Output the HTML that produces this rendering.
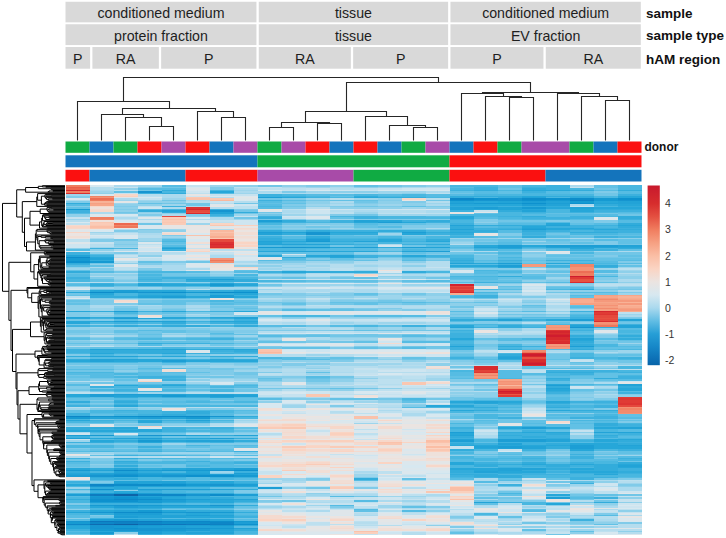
<!DOCTYPE html><html><head><meta charset="utf-8"><style>
html,body{margin:0;padding:0;background:#fff;width:726px;height:538px;overflow:hidden}
body{position:relative;font-family:"Liberation Sans",sans-serif}
text{font-family:"Liberation Sans",sans-serif}
.ht{font-size:14.2px;fill:#1e1e1e;text-anchor:middle}
.lt{font-size:13.5px;font-weight:bold;fill:#111}
.gt{font-size:10.5px;fill:#333}
svg{position:absolute;left:0;top:0}
</style></head><body>
<svg width="726" height="538" viewBox="0 0 726 538"><defs><linearGradient id="lg" x1="0" y1="0" x2="0" y2="1"><stop offset="-0.0045" stop-color="#c8192d"/><stop offset="0.1013" stop-color="#d72d2d"/><stop offset="0.1738" stop-color="#e45041"/><stop offset="0.2462" stop-color="#f07d5f"/><stop offset="0.3187" stop-color="#f6a082"/><stop offset="0.3912" stop-color="#fabea5"/><stop offset="0.4637" stop-color="#fad4c3"/><stop offset="0.5362" stop-color="#ebe4e1"/><stop offset="0.6087" stop-color="#d7e8f0"/><stop offset="0.6811" stop-color="#aad9ee"/><stop offset="0.7536" stop-color="#62bde4"/><stop offset="0.8261" stop-color="#269ed6"/><stop offset="0.8986" stop-color="#1687c8"/><stop offset="0.9711" stop-color="#0c6eb4"/><stop offset="1.0015" stop-color="#0864a8"/></linearGradient></defs><rect x="65.50" y="1.75" width="190.95" height="20.6" fill="#d9d9d9"/><rect x="258.75" y="1.75" width="189.40" height="20.6" fill="#d9d9d9"/><rect x="450.45" y="1.75" width="190.35" height="20.6" fill="#d9d9d9"/><rect x="65.50" y="24.25" width="190.95" height="20.8" fill="#d9d9d9"/><rect x="258.75" y="24.25" width="189.40" height="20.8" fill="#d9d9d9"/><rect x="450.45" y="24.25" width="190.35" height="20.8" fill="#d9d9d9"/><rect x="65.50" y="47.0" width="24.60" height="21.7" fill="#d9d9d9"/><rect x="92.40" y="47.0" width="66.45" height="21.7" fill="#d9d9d9"/><rect x="161.15" y="47.0" width="95.30" height="21.7" fill="#d9d9d9"/><rect x="258.75" y="47.0" width="92.10" height="21.7" fill="#d9d9d9"/><rect x="353.15" y="47.0" width="95.00" height="21.7" fill="#d9d9d9"/><rect x="450.45" y="47.0" width="93.00" height="21.7" fill="#d9d9d9"/><rect x="545.75" y="47.0" width="95.05" height="21.7" fill="#d9d9d9"/><rect x="65.50" y="141.5" width="24.00" height="11.3" fill="#10ab43"/><rect x="89.50" y="141.5" width="24.00" height="11.3" fill="#1474bc"/><rect x="113.50" y="141.5" width="24.00" height="11.3" fill="#10ab43"/><rect x="137.50" y="141.5" width="24.00" height="11.3" fill="#fb1010"/><rect x="161.50" y="141.5" width="24.00" height="11.3" fill="#a84ba8"/><rect x="185.50" y="141.5" width="24.00" height="11.3" fill="#fb1010"/><rect x="209.50" y="141.5" width="24.00" height="11.3" fill="#1474bc"/><rect x="233.50" y="141.5" width="24.00" height="11.3" fill="#a84ba8"/><rect x="257.50" y="141.5" width="24.00" height="11.3" fill="#10ab43"/><rect x="281.50" y="141.5" width="24.00" height="11.3" fill="#a84ba8"/><rect x="305.50" y="141.5" width="24.00" height="11.3" fill="#fb1010"/><rect x="329.50" y="141.5" width="24.00" height="11.3" fill="#1474bc"/><rect x="353.50" y="141.5" width="24.00" height="11.3" fill="#fb1010"/><rect x="377.50" y="141.5" width="24.00" height="11.3" fill="#1474bc"/><rect x="401.50" y="141.5" width="24.00" height="11.3" fill="#10ab43"/><rect x="425.50" y="141.5" width="24.00" height="11.3" fill="#a84ba8"/><rect x="449.50" y="141.5" width="24.00" height="11.3" fill="#1474bc"/><rect x="473.50" y="141.5" width="24.00" height="11.3" fill="#fb1010"/><rect x="497.50" y="141.5" width="24.00" height="11.3" fill="#10ab43"/><rect x="521.50" y="141.5" width="48.00" height="11.3" fill="#a84ba8"/><rect x="569.50" y="141.5" width="24.00" height="11.3" fill="#10ab43"/><rect x="593.50" y="141.5" width="24.00" height="11.3" fill="#1474bc"/><rect x="617.50" y="141.5" width="24.00" height="11.3" fill="#fb1010"/><rect x="65.50" y="155.3" width="192.00" height="12.0" fill="#1474bc"/><rect x="257.50" y="155.3" width="192.00" height="12.0" fill="#10ab43"/><rect x="449.50" y="155.3" width="192.00" height="12.0" fill="#fb1010"/><rect x="65.50" y="169.8" width="24.00" height="11.7" fill="#fb1010"/><rect x="89.50" y="169.8" width="96.00" height="11.7" fill="#1474bc"/><rect x="185.50" y="169.8" width="72.00" height="11.7" fill="#fb1010"/><rect x="257.50" y="169.8" width="96.00" height="11.7" fill="#a84ba8"/><rect x="353.50" y="169.8" width="96.00" height="11.7" fill="#10ab43"/><rect x="449.50" y="169.8" width="96.00" height="11.7" fill="#fb1010"/><rect x="545.50" y="169.8" width="96.00" height="11.7" fill="#1474bc"/><path d="M149.5 140.5V126.5H173.5V140.5M125.5 140.5V117.5H161.5V126.0M101.5 140.5V114.5H143.5V117.4M221.5 140.5V117.5H245.5V140.5M197.5 140.5V111.5H233.5V117.4M122.5 114.0V108.5H215.5V111.9M77.5 140.5V101.5H169.5V108.6M269.5 140.5V127.5H293.5V140.5M317.5 140.5V123.5H341.5V140.5M281.5 127.0V122.5H329.5V123.2M413.5 140.5V127.5H437.5V140.5M389.5 140.5V125.5H425.5V127.9M365.5 140.5V116.5H407.5V125.9M305.5 122.3V111.5H386.5V116.8M509.5 140.5V97.5H533.5V140.5M485.5 140.5V96.5H521.5V97.5M461.5 140.5V93.5H503.5V96.3M605.5 140.5V100.5H629.5V140.5M581.5 140.5V96.5H617.5V100.4M557.5 140.5V93.5H599.5V96.5M482.5 93.8V92.5H578.5V93.8M346.5 111.9V82.5H530.5V92.4M123.5 101.0V77.5H438.5V82.2" fill="none" stroke="#262626" stroke-width="1.1"/><rect x="647.6" y="185.5" width="12.2" height="179.7" fill="url(#lg)"/><filter id="hb" x="-1%" y="-1%" width="102%" height="102%"><feGaussianBlur stdDeviation="0.4 0.55"/></filter><g filter="url(#hb)"><g transform="translate(65.5,185.3) scale(24.0,1.45792)" shape-rendering="crispEdges"><path fill="#f07d5f" d="M0 0h1v1h-1zM0 4h1v1h-1zM1 10h1v1h-1zM1 22h1v1h-1zM21 60h1v2h-1z"/><path fill="#ea5f49" d="M0 1h1v1h-1z"/><path fill="#ec674f" d="M0 2h1v1h-1zM2 26h1v1h-1z"/><path fill="#d4262e" d="M0 3h1v1h-1zM5 16h1v1h-1zM19 121h1v1h-1zM20 100h1v1h-1zM20 102h1v1h-1zM22 86h1v1h-1z"/><path fill="#d92d2f" d="M0 5h1v1h-1zM6 42h1v1h-1zM19 120h1v1h-1zM19 123h1v1h-1zM20 101h1v1h-1zM20 107h1v1h-1zM22 93h1v1h-1z"/><path fill="#9dd5ec" d="M0 6h1v1h-1zM0 23h1v1h-1zM0 57h1v1h-1zM0 103h1v1h-1zM0 141h1v1h-1zM0 153h1v1h-1zM0 175h1v1h-1zM0 202h1v1h-1zM0 207h1v1h-1zM1 4h1v1h-1zM1 32h1v1h-1zM1 42h1v1h-1zM1 60h1v1h-1zM1 70h1v1h-1zM1 84h1v2h-1zM1 88h1v1h-1zM1 97h1v1h-1zM1 101h1v1h-1zM1 109h1v1h-1zM1 183h1v1h-1zM2 10h1v1h-1zM2 12h1v1h-1zM2 42h1v1h-1zM2 62h1v2h-1zM2 103h1v1h-1zM2 110h1v1h-1zM2 165h1v1h-1zM3 0h1v1h-1zM3 10h1v1h-1zM3 19h1v1h-1zM3 36h1v2h-1zM3 70h1v1h-1zM3 83h1v2h-1zM3 142h1v1h-1zM3 152h1v1h-1zM4 9h1v1h-1zM4 13h1v1h-1zM4 30h1v1h-1zM4 35h1v1h-1zM4 53h1v2h-1zM4 101h1v1h-1zM4 110h1v1h-1zM4 124h1v1h-1zM4 142h1v1h-1zM4 152h1v1h-1zM4 177h1v1h-1zM4 183h1v1h-1zM5 26h1v1h-1zM5 84h1v1h-1zM5 89h1v1h-1zM5 95h1v1h-1zM5 97h1v1h-1zM5 103h1v1h-1zM5 110h1v1h-1zM5 123h1v1h-1zM5 135h1v1h-1zM5 183h1v1h-1zM6 0h1v1h-1zM6 60h1v1h-1zM6 70h1v1h-1zM6 97h1v1h-1zM6 110h1v1h-1zM6 123h1v2h-1zM6 130h1v1h-1zM6 132h1v1h-1zM6 183h1v2h-1zM6 196h1v1h-1zM7 3h1v1h-1zM7 5h1v1h-1zM7 20h1v1h-1zM7 23h1v1h-1zM7 60h1v1h-1zM7 66h1v1h-1zM7 70h1v1h-1zM7 103h1v1h-1zM7 106h1v1h-1zM7 124h1v1h-1zM7 127h1v1h-1zM7 133h1v1h-1zM7 161h1v1h-1zM7 184h1v1h-1zM8 57h1v1h-1zM8 71h1v1h-1zM8 79h1v1h-1zM8 82h1v1h-1zM8 90h1v1h-1zM8 98h1v1h-1zM8 105h1v1h-1zM8 121h1v1h-1zM8 123h1v1h-1zM8 125h1v1h-1zM8 137h1v1h-1zM8 140h1v1h-1zM8 201h1v1h-1zM8 204h1v1h-1zM8 212h1v1h-1zM8 220h1v1h-1zM9 20h1v1h-1zM9 53h1v2h-1zM9 56h1v1h-1zM9 61h1v1h-1zM9 68h1v1h-1zM9 78h1v1h-1zM9 98h1v1h-1zM9 104h1v1h-1zM9 110h1v1h-1zM9 124h1v1h-1zM9 133h1v2h-1zM9 145h1v1h-1zM9 151h1v2h-1zM9 201h1v2h-1zM9 213h1v1h-1zM10 1h1v1h-1zM10 4h1v1h-1zM10 9h1v1h-1zM10 13h1v1h-1zM10 27h1v1h-1zM10 52h1v1h-1zM10 55h1v1h-1zM10 68h1v1h-1zM10 76h1v1h-1zM10 90h1v1h-1zM10 110h1v1h-1zM10 116h1v1h-1zM10 121h1v1h-1zM10 124h1v1h-1zM10 127h1v1h-1zM10 129h1v1h-1zM10 136h1v1h-1zM10 138h1v1h-1zM10 140h1v1h-1zM10 212h1v1h-1zM10 219h1v1h-1zM11 12h1v1h-1zM11 23h1v1h-1zM11 29h1v1h-1zM11 53h1v1h-1zM11 60h1v1h-1zM11 68h1v1h-1zM11 73h1v1h-1zM11 91h1v1h-1zM11 94h1v1h-1zM11 105h1v1h-1zM11 122h1v2h-1zM11 138h1v1h-1zM11 221h1v1h-1zM12 9h1v1h-1zM12 18h1v2h-1zM12 55h1v1h-1zM12 58h1v1h-1zM12 76h1v1h-1zM12 78h1v1h-1zM12 91h1v1h-1zM12 95h1v1h-1zM12 105h1v1h-1zM12 122h1v2h-1zM12 148h1v1h-1zM12 163h1v1h-1zM12 198h1v2h-1zM13 1h1v1h-1zM13 4h1v2h-1zM13 13h1v1h-1zM13 20h1v1h-1zM13 33h1v1h-1zM13 46h1v1h-1zM13 51h1v1h-1zM13 60h1v1h-1zM13 63h1v1h-1zM13 75h1v3h-1zM13 94h1v1h-1zM13 97h1v2h-1zM13 110h1v1h-1zM13 118h1v1h-1zM13 122h1v1h-1zM13 213h1v1h-1zM13 219h1v2h-1zM14 4h1v1h-1zM14 15h1v1h-1zM14 20h1v1h-1zM14 68h1v1h-1zM14 76h1v1h-1zM14 78h1v1h-1zM14 90h1v1h-1zM14 94h1v1h-1zM14 213h1v1h-1zM14 216h1v1h-1zM14 219h1v1h-1zM15 12h1v1h-1zM15 20h1v1h-1zM15 58h1v1h-1zM15 60h1v1h-1zM15 62h1v1h-1zM15 68h1v1h-1zM15 76h1v2h-1zM15 85h1v1h-1zM15 105h1v1h-1zM15 132h1v2h-1zM15 139h1v1h-1zM15 155h1v1h-1zM16 36h1v1h-1zM16 39h1v1h-1zM16 57h1v1h-1zM16 79h1v1h-1zM16 84h1v1h-1zM16 125h1v1h-1zM16 143h1v1h-1zM16 236h1v1h-1zM17 103h1v2h-1zM17 115h1v2h-1zM17 139h1v1h-1zM17 165h1v1h-1zM17 210h1v1h-1zM17 213h1v1h-1zM17 238h1v1h-1zM18 36h1v1h-1zM18 68h1v1h-1zM18 82h1v1h-1zM18 85h1v1h-1zM18 87h1v1h-1zM18 121h1v1h-1zM18 125h1v1h-1zM18 203h1v1h-1zM18 209h1v1h-1zM18 228h1v1h-1zM18 234h1v1h-1zM19 38h1v1h-1zM19 60h1v1h-1zM19 81h1v1h-1zM19 87h1v1h-1zM19 133h1v1h-1zM19 139h1v2h-1zM19 151h1v1h-1zM19 202h1v1h-1zM19 220h1v1h-1zM19 225h1v1h-1zM19 237h1v1h-1zM20 36h1v1h-1zM20 60h1v1h-1zM20 63h1v1h-1zM20 67h1v1h-1zM20 72h1v1h-1zM20 75h1v2h-1zM20 185h1v1h-1zM20 226h1v1h-1zM21 85h1v1h-1zM21 167h1v1h-1zM21 205h1v1h-1zM21 226h1v1h-1zM21 236h1v1h-1zM22 45h1v1h-1zM22 57h1v1h-1zM22 60h1v1h-1zM22 139h1v1h-1zM22 141h1v1h-1zM22 144h1v2h-1zM22 219h1v1h-1zM22 230h1v1h-1zM22 234h1v1h-1zM23 56h1v1h-1zM23 58h1v1h-1zM23 61h1v1h-1zM23 69h1v1h-1zM23 74h1v1h-1zM23 88h1v1h-1zM23 108h1v1h-1zM23 113h1v2h-1zM23 185h1v1h-1zM23 204h1v1h-1z"/><path fill="#80cbe9" d="M0 7h1v2h-1zM0 11h1v1h-1zM0 14h1v1h-1zM0 87h1v3h-1zM0 101h1v2h-1zM0 107h1v1h-1zM0 109h1v1h-1zM0 116h1v1h-1zM0 135h1v1h-1zM0 138h1v2h-1zM0 164h1v1h-1zM0 177h1v1h-1zM0 180h1v1h-1zM0 209h1v1h-1zM0 218h1v1h-1zM1 37h1v2h-1zM1 57h1v2h-1zM1 63h1v1h-1zM1 77h1v1h-1zM1 79h1v3h-1zM1 92h1v1h-1zM1 99h1v2h-1zM1 102h1v1h-1zM1 123h1v1h-1zM1 133h1v1h-1zM1 147h1v1h-1zM1 149h1v1h-1zM1 153h1v1h-1zM1 187h1v2h-1zM1 192h1v2h-1zM1 203h1v1h-1zM1 226h1v1h-1zM2 14h1v1h-1zM2 16h1v1h-1zM2 19h1v1h-1zM2 31h1v1h-1zM2 40h1v1h-1zM2 46h1v1h-1zM2 65h1v1h-1zM2 71h1v1h-1zM2 81h1v1h-1zM2 83h1v1h-1zM2 101h1v2h-1zM2 106h1v2h-1zM2 124h1v2h-1zM2 134h1v2h-1zM2 142h1v1h-1zM2 164h1v1h-1zM2 171h1v1h-1zM2 177h1v1h-1zM2 180h1v1h-1zM3 1h1v1h-1zM3 20h1v1h-1zM3 30h1v1h-1zM3 53h1v2h-1zM3 57h1v1h-1zM3 71h1v1h-1zM3 88h1v1h-1zM3 98h1v1h-1zM3 106h1v1h-1zM3 123h1v1h-1zM3 149h1v1h-1zM3 184h1v1h-1zM3 188h1v1h-1zM4 34h1v1h-1zM4 36h1v1h-1zM4 52h1v1h-1zM4 70h1v1h-1zM4 78h1v1h-1zM4 84h1v1h-1zM4 88h1v1h-1zM4 97h1v2h-1zM4 109h1v1h-1zM4 135h1v1h-1zM4 163h1v1h-1zM4 180h1v1h-1zM4 184h1v1h-1zM5 20h1v1h-1zM5 60h1v1h-1zM5 78h1v1h-1zM5 80h1v2h-1zM5 87h1v1h-1zM5 92h1v1h-1zM5 98h1v1h-1zM5 102h1v1h-1zM5 116h1v1h-1zM5 118h1v1h-1zM5 122h1v1h-1zM5 126h1v2h-1zM5 129h1v1h-1zM5 139h1v1h-1zM5 153h1v1h-1zM5 163h1v1h-1zM5 169h1v1h-1zM5 177h1v1h-1zM5 180h1v1h-1zM5 184h1v1h-1zM6 1h1v2h-1zM6 82h1v1h-1zM6 84h1v2h-1zM6 87h1v2h-1zM6 99h1v1h-1zM6 103h1v1h-1zM6 127h1v3h-1zM6 147h1v1h-1zM6 153h1v1h-1zM6 160h1v1h-1zM6 177h1v1h-1zM6 197h1v1h-1zM6 202h1v1h-1zM7 16h1v1h-1zM7 71h1v1h-1zM7 89h1v1h-1zM7 99h1v2h-1zM7 104h1v1h-1zM7 107h1v1h-1zM7 109h1v1h-1zM7 118h1v1h-1zM7 122h1v1h-1zM7 125h1v1h-1zM7 130h1v2h-1zM7 139h1v1h-1zM7 157h1v1h-1zM7 167h1v1h-1zM7 169h1v1h-1zM7 177h1v1h-1zM7 183h1v1h-1zM7 188h1v1h-1zM7 209h1v2h-1zM8 52h1v1h-1zM8 66h1v1h-1zM8 75h1v1h-1zM8 81h1v1h-1zM8 85h1v1h-1zM8 99h1v1h-1zM8 102h1v1h-1zM8 104h1v1h-1zM8 106h1v1h-1zM8 110h1v1h-1zM8 120h1v1h-1zM8 124h1v1h-1zM8 128h1v1h-1zM8 131h1v1h-1zM8 216h1v1h-1zM9 4h1v1h-1zM9 9h1v1h-1zM9 13h1v1h-1zM9 15h1v1h-1zM9 23h1v1h-1zM9 28h1v1h-1zM9 30h1v1h-1zM9 34h1v1h-1zM9 52h1v1h-1zM9 66h1v1h-1zM9 74h1v2h-1zM9 84h1v1h-1zM9 90h1v1h-1zM9 99h1v1h-1zM9 102h1v1h-1zM9 122h1v2h-1zM9 131h1v1h-1zM9 146h1v1h-1zM10 0h1v1h-1zM10 26h1v1h-1zM10 50h1v1h-1zM10 75h1v1h-1zM10 99h1v1h-1zM10 107h1v1h-1zM10 122h1v1h-1zM10 146h1v1h-1zM10 201h1v1h-1zM11 14h1v1h-1zM11 20h1v1h-1zM11 26h1v1h-1zM11 28h1v1h-1zM11 30h1v1h-1zM11 66h1v1h-1zM11 74h1v2h-1zM11 79h1v1h-1zM11 102h1v1h-1zM11 111h1v1h-1zM11 120h1v1h-1zM11 132h1v1h-1zM11 151h1v1h-1zM11 220h1v1h-1zM12 12h1v1h-1zM12 23h1v1h-1zM12 29h1v2h-1zM12 47h1v1h-1zM12 50h1v1h-1zM12 60h1v1h-1zM12 79h1v1h-1zM12 84h1v1h-1zM12 110h1v1h-1zM12 200h1v1h-1zM12 207h1v1h-1zM13 10h1v1h-1zM13 14h1v1h-1zM13 23h1v1h-1zM13 29h1v1h-1zM13 34h1v1h-1zM13 65h1v1h-1zM13 81h1v1h-1zM13 84h1v1h-1zM13 102h1v1h-1zM14 0h1v1h-1zM14 11h1v1h-1zM14 23h1v1h-1zM14 27h1v2h-1zM14 34h1v1h-1zM14 60h1v1h-1zM14 66h1v1h-1zM14 75h1v1h-1zM14 79h1v1h-1zM14 85h1v1h-1zM14 104h1v1h-1zM14 106h1v1h-1zM14 151h1v1h-1zM15 14h1v1h-1zM15 23h1v1h-1zM15 27h1v2h-1zM15 30h1v1h-1zM15 34h1v1h-1zM15 47h1v1h-1zM15 50h1v1h-1zM15 81h1v1h-1zM15 89h1v1h-1zM15 104h1v1h-1zM15 118h1v2h-1zM15 220h1v1h-1zM16 37h1v1h-1zM16 44h1v1h-1zM16 60h1v1h-1zM16 65h1v1h-1zM16 87h1v1h-1zM16 89h1v1h-1zM16 94h1v1h-1zM16 114h1v1h-1zM16 120h1v1h-1zM16 133h1v2h-1zM16 137h1v1h-1zM16 156h1v1h-1zM16 161h1v1h-1zM16 227h1v1h-1zM16 234h1v1h-1zM16 237h1v1h-1zM17 23h1v2h-1zM17 38h1v1h-1zM17 57h1v1h-1zM17 67h1v2h-1zM17 82h1v1h-1zM17 90h1v1h-1zM17 93h1v2h-1zM17 106h1v1h-1zM17 111h1v1h-1zM17 117h1v1h-1zM17 122h1v1h-1zM17 134h1v1h-1zM17 145h1v1h-1zM17 156h1v1h-1zM17 160h1v1h-1zM17 164h1v1h-1zM17 166h1v1h-1zM17 173h1v1h-1zM17 182h1v2h-1zM17 185h1v1h-1zM17 212h1v1h-1zM18 33h1v2h-1zM18 57h1v1h-1zM18 67h1v1h-1zM18 76h1v1h-1zM18 83h1v1h-1zM18 107h1v2h-1zM18 215h1v2h-1zM19 44h1v1h-1zM19 46h1v1h-1zM19 49h1v1h-1zM19 56h1v1h-1zM19 58h1v2h-1zM19 76h1v1h-1zM19 80h1v1h-1zM19 89h1v1h-1zM19 93h1v1h-1zM19 107h1v1h-1zM19 132h1v1h-1zM19 159h1v1h-1zM19 216h1v1h-1zM20 24h1v1h-1zM20 65h1v1h-1zM20 88h1v1h-1zM20 115h1v1h-1zM20 120h1v1h-1zM20 124h1v1h-1zM20 160h1v2h-1zM20 183h1v1h-1zM20 205h1v1h-1zM20 227h1v1h-1zM21 38h1v1h-1zM21 40h1v1h-1zM21 67h1v1h-1zM21 74h1v1h-1zM21 113h1v1h-1zM21 133h1v2h-1zM21 142h1v1h-1zM21 145h1v1h-1zM21 147h1v1h-1zM21 160h1v1h-1zM21 230h1v2h-1zM22 4h1v1h-1zM22 24h1v2h-1zM22 38h1v3h-1zM22 48h1v1h-1zM22 63h1v2h-1zM22 103h1v2h-1zM22 106h1v1h-1zM22 134h1v1h-1zM22 146h1v1h-1zM22 153h1v1h-1zM22 182h1v1h-1zM22 225h1v1h-1zM23 52h1v1h-1zM23 70h1v1h-1zM23 73h1v1h-1zM23 90h1v1h-1zM23 115h1v1h-1zM23 143h1v1h-1zM23 160h1v1h-1zM23 162h1v1h-1zM23 201h1v1h-1zM23 205h1v1h-1zM23 231h1v1h-1z"/><path fill="#dbe7ed" d="M0 9h1v1h-1zM0 45h1v1h-1zM0 71h1v1h-1zM0 77h1v1h-1zM1 137h1v1h-1zM1 164h1v1h-1zM2 34h1v1h-1zM2 36h1v1h-1zM2 45h1v1h-1zM3 27h1v2h-1zM3 39h1v1h-1zM3 166h1v1h-1zM4 48h1v2h-1zM4 154h1v1h-1zM5 38h1v1h-1zM5 54h1v2h-1zM5 113h1v1h-1zM7 7h1v1h-1zM7 46h1v1h-1zM7 49h1v1h-1zM7 88h1v1h-1zM7 165h1v1h-1zM8 49h1v1h-1zM8 88h1v1h-1zM8 109h1v1h-1zM8 149h1v1h-1zM8 155h1v1h-1zM8 158h1v1h-1zM8 172h1v1h-1zM8 174h1v1h-1zM8 238h1v1h-1zM9 147h1v1h-1zM9 153h1v1h-1zM9 197h1v1h-1zM9 209h1v1h-1zM9 224h1v1h-1zM9 235h1v1h-1zM10 16h1v1h-1zM10 21h1v2h-1zM10 109h1v1h-1zM10 154h1v2h-1zM10 167h1v1h-1zM10 169h1v1h-1zM10 184h1v2h-1zM10 226h1v1h-1zM10 228h1v1h-1zM10 238h1v2h-1zM11 88h1v1h-1zM11 108h1v1h-1zM11 113h1v2h-1zM11 149h1v1h-1zM11 162h1v1h-1zM11 185h1v1h-1zM11 196h1v2h-1zM11 226h1v1h-1zM12 87h1v1h-1zM12 113h1v1h-1zM12 154h1v2h-1zM12 157h1v1h-1zM12 161h1v1h-1zM12 186h1v2h-1zM12 190h1v1h-1zM12 193h1v1h-1zM12 235h1v1h-1zM13 113h1v1h-1zM13 117h1v1h-1zM13 158h1v1h-1zM13 191h1v1h-1zM13 202h1v1h-1zM13 207h1v1h-1zM13 232h1v1h-1zM14 70h1v1h-1zM14 87h1v1h-1zM14 101h1v1h-1zM14 159h1v1h-1zM14 170h1v1h-1zM14 181h1v1h-1zM14 185h1v1h-1zM14 189h1v3h-1zM14 194h1v1h-1zM14 196h1v2h-1zM14 206h1v1h-1zM14 227h1v1h-1zM15 141h1v1h-1zM15 158h1v1h-1zM15 170h1v1h-1zM15 195h1v1h-1zM15 198h1v3h-1zM15 203h1v1h-1zM15 211h1v1h-1zM15 218h1v1h-1zM15 231h1v1h-1zM15 239h1v1h-1zM16 58h1v1h-1zM16 217h1v2h-1zM17 87h1v1h-1zM18 235h1v2h-1zM19 68h1v1h-1zM19 158h1v1h-1zM19 210h1v1h-1zM19 214h1v1h-1zM19 224h1v1h-1zM19 233h1v1h-1zM20 46h1v1h-1zM20 78h1v1h-1zM20 209h1v1h-1zM20 233h1v1h-1zM22 22h1v1h-1zM23 225h1v1h-1zM23 229h1v1h-1zM23 239h1v1h-1z"/><path fill="#acdaee" d="M0 10h1v1h-1zM0 165h1v1h-1zM0 169h1v1h-1zM0 186h1v1h-1zM1 3h1v1h-1zM1 18h1v2h-1zM1 36h1v1h-1zM1 56h1v1h-1zM1 62h1v1h-1zM1 82h1v2h-1zM1 106h1v1h-1zM1 152h1v1h-1zM1 184h1v1h-1zM2 0h1v1h-1zM2 9h1v1h-1zM2 22h1v1h-1zM2 32h1v1h-1zM2 44h1v1h-1zM2 47h1v1h-1zM2 58h1v1h-1zM2 60h1v1h-1zM2 78h1v1h-1zM2 82h1v1h-1zM2 186h1v1h-1zM3 23h1v1h-1zM3 33h1v1h-1zM3 46h1v2h-1zM3 55h1v1h-1zM3 82h1v1h-1zM3 110h1v1h-1zM4 6h1v3h-1zM4 15h1v1h-1zM4 20h1v1h-1zM4 55h1v3h-1zM4 103h1v1h-1zM5 10h1v1h-1zM5 14h1v1h-1zM5 23h1v1h-1zM5 51h1v1h-1zM5 57h1v1h-1zM5 82h1v2h-1zM5 85h1v1h-1zM5 88h1v1h-1zM5 132h1v1h-1zM5 170h1v1h-1zM5 186h1v1h-1zM6 22h1v2h-1zM6 30h1v1h-1zM6 48h1v2h-1zM6 133h1v1h-1zM6 163h1v1h-1zM7 2h1v1h-1zM7 4h1v1h-1zM7 52h1v1h-1zM7 110h1v1h-1zM7 162h1v1h-1zM8 4h1v1h-1zM8 54h1v1h-1zM8 56h1v1h-1zM8 61h1v1h-1zM8 78h1v1h-1zM8 126h1v2h-1zM8 135h1v2h-1zM8 138h1v1h-1zM8 147h1v1h-1zM8 211h1v1h-1zM8 214h1v1h-1zM9 1h1v1h-1zM9 5h1v1h-1zM9 17h1v2h-1zM9 55h1v1h-1zM9 57h1v1h-1zM9 69h1v1h-1zM9 72h1v2h-1zM9 77h1v1h-1zM9 83h1v1h-1zM9 94h1v1h-1zM9 125h1v1h-1zM9 128h1v1h-1zM9 130h1v1h-1zM9 138h1v1h-1zM9 150h1v1h-1zM9 203h1v1h-1zM9 220h1v1h-1zM10 5h1v1h-1zM10 23h1v1h-1zM10 53h1v2h-1zM10 57h1v2h-1zM10 60h1v1h-1zM10 69h1v1h-1zM10 71h1v2h-1zM10 79h1v1h-1zM10 97h1v2h-1zM10 104h1v2h-1zM10 123h1v1h-1zM10 130h1v1h-1zM10 137h1v1h-1zM10 145h1v1h-1zM10 213h1v1h-1zM10 217h1v1h-1zM10 223h1v1h-1zM11 1h1v1h-1zM11 11h1v1h-1zM11 13h1v1h-1zM11 71h1v1h-1zM11 77h1v1h-1zM11 95h1v1h-1zM11 97h1v1h-1zM11 106h1v1h-1zM11 117h1v1h-1zM11 128h1v1h-1zM11 135h1v2h-1zM11 147h1v1h-1zM11 212h1v1h-1zM12 5h1v1h-1zM12 17h1v1h-1zM12 52h1v1h-1zM12 54h1v1h-1zM12 69h1v1h-1zM12 71h1v3h-1zM12 82h1v1h-1zM12 94h1v1h-1zM12 120h1v1h-1zM12 131h1v1h-1zM12 134h1v1h-1zM12 138h1v1h-1zM12 140h1v1h-1zM12 147h1v1h-1zM12 196h1v1h-1zM12 212h1v1h-1zM12 221h1v1h-1zM12 226h1v1h-1zM13 40h1v1h-1zM13 55h1v1h-1zM13 82h1v2h-1zM13 91h1v1h-1zM13 95h1v1h-1zM13 100h1v1h-1zM13 124h1v1h-1zM13 145h1v1h-1zM13 152h1v1h-1zM13 154h1v1h-1zM13 216h1v1h-1zM14 1h1v1h-1zM14 53h1v2h-1zM14 58h1v1h-1zM14 61h1v1h-1zM14 82h1v1h-1zM14 84h1v1h-1zM14 122h1v1h-1zM14 124h1v1h-1zM14 145h1v1h-1zM14 149h1v1h-1zM14 156h1v2h-1zM14 202h1v1h-1zM14 221h1v1h-1zM15 4h1v1h-1zM15 13h1v1h-1zM15 17h1v2h-1zM15 29h1v1h-1zM15 84h1v1h-1zM15 94h1v2h-1zM15 97h1v2h-1zM15 120h1v1h-1zM15 131h1v1h-1zM15 145h1v1h-1zM15 148h1v1h-1zM15 212h1v1h-1zM15 221h1v1h-1zM16 45h1v1h-1zM16 135h1v1h-1zM16 138h1v1h-1zM16 141h1v1h-1zM16 160h1v1h-1zM16 226h1v1h-1zM17 45h1v1h-1zM17 83h1v1h-1zM17 98h1v1h-1zM17 101h1v1h-1zM17 135h1v1h-1zM17 171h1v2h-1zM17 201h1v2h-1zM17 206h1v2h-1zM17 215h1v1h-1zM17 219h1v1h-1zM18 74h1v1h-1zM18 80h1v2h-1zM18 84h1v1h-1zM18 122h1v1h-1zM18 124h1v1h-1zM18 229h1v1h-1zM18 231h1v1h-1zM18 238h1v1h-1zM19 75h1v1h-1zM19 77h1v2h-1zM19 98h1v2h-1zM19 102h1v1h-1zM19 135h1v1h-1zM19 137h1v1h-1zM19 141h1v1h-1zM19 143h1v3h-1zM19 152h1v1h-1zM19 160h1v1h-1zM19 226h1v1h-1zM19 238h1v1h-1zM20 74h1v1h-1zM20 80h1v1h-1zM20 82h1v2h-1zM20 113h1v1h-1zM20 229h1v1h-1zM20 232h1v1h-1zM20 234h1v1h-1zM21 0h1v1h-1zM21 13h1v1h-1zM21 36h1v1h-1zM21 126h1v1h-1zM21 202h1v1h-1zM21 206h1v1h-1zM21 210h1v1h-1zM21 218h1v1h-1zM21 227h1v1h-1zM22 69h1v1h-1zM22 101h1v1h-1zM22 114h1v1h-1zM22 135h1v1h-1zM22 138h1v1h-1zM22 143h1v1h-1zM22 202h1v1h-1zM22 215h1v1h-1zM22 220h1v1h-1zM22 222h1v1h-1zM22 229h1v1h-1zM23 45h1v1h-1zM23 64h1v2h-1zM23 72h1v1h-1zM23 89h1v1h-1zM23 207h1v3h-1zM23 226h1v1h-1z"/><path fill="#32acdb" d="M0 12h1v1h-1zM0 53h1v1h-1zM0 59h1v1h-1zM0 117h1v1h-1zM0 119h1v1h-1zM0 148h1v1h-1zM0 166h1v2h-1zM0 196h1v1h-1zM0 215h1v1h-1zM1 51h1v1h-1zM1 68h1v1h-1zM1 75h1v2h-1zM1 86h1v1h-1zM1 90h1v1h-1zM1 113h1v2h-1zM1 166h1v1h-1zM1 176h1v1h-1zM1 194h1v1h-1zM1 200h1v1h-1zM1 207h1v1h-1zM1 209h1v1h-1zM1 225h1v1h-1zM1 239h1v1h-1zM2 76h1v1h-1zM2 96h1v1h-1zM2 113h1v2h-1zM2 145h1v1h-1zM2 148h1v1h-1zM2 167h1v1h-1zM2 175h1v1h-1zM2 187h1v1h-1zM2 189h1v1h-1zM2 192h1v1h-1zM2 201h1v1h-1zM2 208h1v1h-1zM2 221h1v1h-1zM3 17h1v1h-1zM3 74h1v1h-1zM3 108h1v1h-1zM3 113h1v3h-1zM3 117h1v1h-1zM3 174h1v1h-1zM3 194h1v1h-1zM3 196h1v1h-1zM3 209h1v1h-1zM3 221h1v1h-1zM4 3h1v1h-1zM4 5h1v1h-1zM4 18h1v1h-1zM4 42h1v1h-1zM4 67h1v1h-1zM4 74h1v1h-1zM4 94h1v1h-1zM4 96h1v1h-1zM4 113h1v2h-1zM4 119h1v1h-1zM4 136h1v1h-1zM4 157h1v1h-1zM4 173h1v1h-1zM4 211h1v1h-1zM4 225h1v1h-1zM5 65h1v1h-1zM5 96h1v1h-1zM5 112h1v1h-1zM5 155h1v2h-1zM5 203h1v1h-1zM5 211h1v1h-1zM5 213h1v2h-1zM5 217h1v1h-1zM5 223h1v1h-1zM5 237h1v1h-1zM6 65h1v1h-1zM6 69h1v1h-1zM6 72h1v1h-1zM6 74h1v1h-1zM6 91h1v1h-1zM6 117h1v1h-1zM6 171h1v1h-1zM6 211h1v1h-1zM6 214h1v1h-1zM6 223h1v1h-1zM6 225h1v1h-1zM7 18h1v1h-1zM7 64h1v2h-1zM7 67h1v1h-1zM7 94h1v1h-1zM7 96h1v1h-1zM7 113h1v1h-1zM7 117h1v1h-1zM7 119h1v1h-1zM7 158h1v1h-1zM7 173h1v1h-1zM7 175h1v1h-1zM7 204h1v1h-1zM7 208h1v1h-1zM7 216h1v1h-1zM7 219h1v1h-1zM7 224h1v1h-1zM7 233h1v1h-1zM7 236h1v1h-1zM8 22h1v1h-1zM8 25h1v1h-1zM8 31h1v1h-1zM8 36h1v2h-1zM9 24h1v1h-1zM9 33h1v1h-1zM9 49h1v1h-1zM10 31h1v1h-1zM10 35h1v1h-1zM10 59h1v1h-1zM11 33h1v1h-1zM11 38h1v1h-1zM11 40h1v1h-1zM11 59h1v1h-1zM12 7h1v1h-1zM12 33h1v1h-1zM12 59h1v1h-1zM12 201h1v1h-1zM13 8h1v1h-1zM13 31h1v1h-1zM13 42h1v1h-1zM14 8h1v1h-1zM14 31h1v1h-1zM14 59h1v1h-1zM15 24h1v1h-1zM15 32h1v1h-1zM15 37h1v1h-1zM15 40h1v1h-1zM16 7h1v2h-1zM16 14h1v1h-1zM16 28h1v2h-1zM16 31h1v1h-1zM16 33h1v1h-1zM16 51h1v1h-1zM16 92h1v1h-1zM16 152h1v1h-1zM16 172h1v1h-1zM16 177h1v1h-1zM16 181h1v1h-1zM16 195h1v2h-1zM16 198h1v1h-1zM17 3h1v1h-1zM17 7h1v1h-1zM17 14h1v1h-1zM17 27h1v1h-1zM17 31h1v1h-1zM17 92h1v1h-1zM17 152h1v1h-1zM17 154h1v1h-1zM17 191h1v2h-1zM17 198h1v2h-1zM18 7h1v2h-1zM18 17h1v1h-1zM18 27h1v1h-1zM18 30h1v1h-1zM18 62h1v1h-1zM18 96h1v2h-1zM18 110h1v1h-1zM18 112h1v1h-1zM18 116h1v1h-1zM18 119h1v1h-1zM18 149h1v1h-1zM18 169h1v1h-1zM18 171h1v1h-1zM18 191h1v1h-1zM18 197h1v1h-1zM18 199h1v2h-1zM19 2h1v1h-1zM19 14h1v1h-1zM19 21h1v1h-1zM19 27h1v1h-1zM19 31h1v1h-1zM19 35h1v1h-1zM19 172h1v1h-1zM19 190h1v1h-1zM19 195h1v1h-1zM20 7h1v1h-1zM20 14h1v1h-1zM20 128h1v1h-1zM20 132h1v1h-1zM20 138h1v1h-1zM20 141h1v1h-1zM20 149h1v1h-1zM20 152h1v1h-1zM20 170h1v1h-1zM20 173h1v1h-1zM20 177h1v1h-1zM20 179h1v2h-1zM20 191h1v2h-1zM20 194h1v1h-1zM21 3h1v1h-1zM21 7h1v2h-1zM21 30h1v1h-1zM21 32h1v1h-1zM21 71h1v1h-1zM21 95h1v1h-1zM21 103h1v1h-1zM21 107h1v1h-1zM21 109h1v1h-1zM21 112h1v1h-1zM21 128h1v1h-1zM21 154h1v1h-1zM21 195h1v1h-1zM22 13h1v1h-1zM22 16h1v1h-1zM22 32h1v1h-1zM22 55h1v1h-1zM22 97h1v1h-1zM22 132h1v1h-1zM22 154h1v1h-1zM22 163h1v2h-1zM22 171h1v1h-1zM22 191h1v5h-1zM22 197h1v1h-1zM22 217h1v1h-1zM23 3h1v1h-1zM23 14h1v1h-1zM23 16h1v1h-1zM23 21h1v2h-1zM23 26h1v1h-1zM23 28h1v1h-1zM23 30h1v1h-1zM23 43h1v1h-1zM23 103h1v1h-1zM23 105h1v1h-1zM23 138h1v1h-1zM23 175h1v1h-1zM23 177h1v1h-1zM23 190h1v1h-1zM23 196h1v1h-1z"/><path fill="#56bce3" d="M0 13h1v1h-1zM0 19h1v1h-1zM0 44h1v1h-1zM0 55h1v1h-1zM0 61h1v2h-1zM0 68h1v1h-1zM0 105h1v1h-1zM0 126h1v1h-1zM0 129h1v1h-1zM0 136h1v2h-1zM0 150h1v1h-1zM0 182h1v1h-1zM0 190h1v1h-1zM0 213h1v1h-1zM0 220h1v1h-1zM0 226h1v2h-1zM0 229h1v1h-1zM0 237h1v1h-1zM1 47h1v1h-1zM1 59h1v1h-1zM1 118h1v1h-1zM1 126h1v1h-1zM1 129h1v3h-1zM1 145h1v1h-1zM1 151h1v1h-1zM1 156h1v1h-1zM1 174h1v1h-1zM1 202h1v1h-1zM2 92h1v1h-1zM2 105h1v1h-1zM2 118h1v1h-1zM2 136h1v1h-1zM2 139h1v1h-1zM2 146h1v1h-1zM2 156h1v1h-1zM2 169h1v1h-1zM2 172h1v1h-1zM2 182h1v1h-1zM2 191h1v1h-1zM2 193h1v1h-1zM3 2h1v1h-1zM3 16h1v1h-1zM3 62h1v1h-1zM3 69h1v1h-1zM3 99h1v1h-1zM3 109h1v1h-1zM3 111h1v1h-1zM3 125h1v1h-1zM3 128h1v3h-1zM3 136h1v1h-1zM3 148h1v1h-1zM3 160h1v1h-1zM3 169h1v1h-1zM3 189h1v1h-1zM3 202h1v1h-1zM4 0h1v1h-1zM4 2h1v1h-1zM4 37h1v1h-1zM4 41h1v1h-1zM4 64h1v2h-1zM4 77h1v1h-1zM4 95h1v1h-1zM4 105h1v1h-1zM4 116h1v1h-1zM4 125h1v1h-1zM4 128h1v1h-1zM4 130h1v1h-1zM4 141h1v1h-1zM4 148h1v1h-1zM4 162h1v1h-1zM4 169h1v1h-1zM4 176h1v1h-1zM4 182h1v1h-1zM4 221h1v1h-1zM4 228h1v1h-1zM5 59h1v1h-1zM5 69h1v1h-1zM5 94h1v1h-1zM5 111h1v1h-1zM5 137h1v1h-1zM5 147h1v1h-1zM5 185h1v1h-1zM5 187h1v1h-1zM5 190h1v2h-1zM5 200h1v2h-1zM5 210h1v1h-1zM5 218h1v1h-1zM5 221h1v2h-1zM6 5h1v1h-1zM6 21h1v1h-1zM6 81h1v1h-1zM6 101h1v1h-1zM6 104h1v1h-1zM6 111h1v1h-1zM6 121h1v1h-1zM6 148h1v1h-1zM6 156h1v2h-1zM6 174h1v1h-1zM6 182h1v1h-1zM6 187h1v1h-1zM6 189h1v1h-1zM6 191h1v3h-1zM6 209h1v2h-1zM6 221h1v1h-1zM6 228h1v1h-1zM7 59h1v1h-1zM7 69h1v1h-1zM7 80h1v1h-1zM7 121h1v1h-1zM7 138h1v1h-1zM7 145h1v1h-1zM7 154h1v1h-1zM7 178h1v1h-1zM7 185h1v1h-1zM7 187h1v1h-1zM7 192h1v1h-1zM7 201h1v1h-1zM7 223h1v1h-1zM7 225h1v1h-1zM7 229h1v1h-1zM7 234h1v1h-1zM8 11h1v1h-1zM8 13h1v1h-1zM8 15h1v1h-1zM8 41h1v1h-1zM8 47h1v1h-1zM8 51h1v1h-1zM8 96h1v1h-1zM8 103h1v1h-1zM8 146h1v1h-1zM9 10h1v1h-1zM9 35h1v2h-1zM9 50h1v1h-1zM9 65h1v1h-1zM9 85h1v1h-1zM9 96h1v1h-1zM9 118h1v2h-1zM10 6h1v1h-1zM10 24h1v1h-1zM10 34h1v1h-1zM10 44h1v1h-1zM10 119h1v1h-1zM10 131h1v1h-1zM11 6h1v1h-1zM11 35h1v1h-1zM11 43h1v2h-1zM11 47h1v1h-1zM11 96h1v1h-1zM11 213h1v1h-1zM11 219h1v1h-1zM12 26h1v1h-1zM12 35h1v1h-1zM12 39h1v1h-1zM12 41h1v1h-1zM12 43h1v2h-1zM12 89h1v1h-1zM12 202h1v1h-1zM12 216h1v1h-1zM12 222h1v1h-1zM13 6h1v1h-1zM13 28h1v1h-1zM13 89h1v1h-1zM14 36h1v1h-1zM14 39h1v1h-1zM14 43h1v1h-1zM14 51h1v1h-1zM14 80h1v1h-1zM14 89h1v1h-1zM14 103h1v1h-1zM14 107h1v1h-1zM14 111h1v1h-1zM14 147h1v1h-1zM14 152h1v1h-1zM14 223h1v1h-1zM15 6h1v2h-1zM15 21h1v1h-1zM15 39h1v1h-1zM15 41h1v1h-1zM15 43h1v2h-1zM15 65h1v1h-1zM15 96h1v1h-1zM15 107h1v1h-1zM16 1h1v1h-1zM16 6h1v1h-1zM16 42h1v1h-1zM16 54h1v1h-1zM16 63h1v1h-1zM16 66h1v1h-1zM16 75h1v1h-1zM16 86h1v1h-1zM16 90h1v2h-1zM16 93h1v1h-1zM16 117h1v1h-1zM16 119h1v1h-1zM16 128h1v3h-1zM16 132h1v1h-1zM16 147h1v1h-1zM16 153h1v1h-1zM16 182h1v1h-1zM16 188h1v2h-1zM16 201h1v1h-1zM17 4h1v2h-1zM17 22h1v1h-1zM17 28h1v1h-1zM17 35h1v1h-1zM17 51h1v1h-1zM17 54h1v1h-1zM17 59h1v2h-1zM17 63h1v2h-1zM17 96h1v1h-1zM17 119h1v1h-1zM17 150h1v1h-1zM17 155h1v1h-1zM17 161h1v1h-1zM17 193h1v1h-1zM17 203h1v1h-1zM18 23h1v1h-1zM18 26h1v1h-1zM18 31h1v2h-1zM18 39h1v2h-1zM18 44h1v1h-1zM18 47h1v1h-1zM18 50h1v1h-1zM18 58h1v1h-1zM18 71h1v1h-1zM18 105h1v2h-1zM18 127h1v5h-1zM18 145h1v2h-1zM18 151h1v1h-1zM18 155h1v1h-1zM18 157h1v1h-1zM18 184h1v1h-1zM18 186h1v1h-1zM18 188h1v1h-1zM18 202h1v1h-1zM19 20h1v1h-1zM19 26h1v1h-1zM19 43h1v1h-1zM19 62h1v2h-1zM19 86h1v1h-1zM19 90h1v1h-1zM19 112h1v1h-1zM19 129h1v1h-1zM19 163h1v1h-1zM19 189h1v1h-1zM19 223h1v1h-1zM20 4h1v2h-1zM20 20h1v2h-1zM20 25h1v1h-1zM20 32h1v1h-1zM20 35h1v1h-1zM20 44h1v1h-1zM20 66h1v1h-1zM20 90h1v1h-1zM20 112h1v1h-1zM20 125h1v1h-1zM20 131h1v1h-1zM20 143h1v1h-1zM20 145h1v3h-1zM20 153h1v1h-1zM20 155h1v1h-1zM20 157h1v1h-1zM20 159h1v1h-1zM20 164h1v2h-1zM20 167h1v1h-1zM20 190h1v1h-1zM20 197h1v1h-1zM21 20h1v1h-1zM21 23h1v1h-1zM21 52h1v1h-1zM21 70h1v1h-1zM21 73h1v1h-1zM21 75h1v1h-1zM21 83h1v1h-1zM21 88h1v1h-1zM21 100h1v1h-1zM21 102h1v1h-1zM21 125h1v1h-1zM21 130h1v1h-1zM21 149h1v1h-1zM21 157h1v2h-1zM21 163h1v1h-1zM21 176h1v1h-1zM21 182h1v2h-1zM21 185h1v1h-1zM21 188h1v2h-1zM21 214h1v1h-1zM22 3h1v1h-1zM22 20h1v1h-1zM22 26h1v1h-1zM22 37h1v1h-1zM22 52h1v1h-1zM22 54h1v1h-1zM22 58h1v2h-1zM22 73h1v1h-1zM22 105h1v1h-1zM22 112h1v1h-1zM22 119h1v1h-1zM22 136h1v1h-1zM22 150h1v1h-1zM22 162h1v1h-1zM22 173h1v1h-1zM22 188h1v1h-1zM22 226h1v1h-1zM23 4h1v2h-1zM23 18h1v1h-1zM23 24h1v2h-1zM23 33h1v1h-1zM23 51h1v1h-1zM23 53h1v1h-1zM23 98h1v1h-1zM23 101h1v1h-1zM23 110h1v1h-1zM23 133h1v1h-1zM23 141h1v1h-1zM23 159h1v1h-1zM23 167h1v2h-1zM23 172h1v1h-1zM23 186h1v1h-1zM23 200h1v1h-1z"/><path fill="#62c1e5" d="M0 15h1v1h-1zM0 58h1v1h-1zM0 60h1v1h-1zM0 67h1v1h-1zM0 75h1v1h-1zM0 79h1v1h-1zM0 81h1v1h-1zM0 104h1v1h-1zM0 108h1v1h-1zM0 131h1v1h-1zM0 146h1v2h-1zM0 149h1v1h-1zM0 154h1v2h-1zM0 191h1v2h-1zM0 221h1v1h-1zM1 55h1v1h-1zM1 64h1v2h-1zM1 108h1v1h-1zM1 111h1v1h-1zM1 146h1v1h-1zM1 148h1v1h-1zM1 157h1v1h-1zM1 170h1v1h-1zM1 172h1v1h-1zM1 181h1v1h-1zM1 185h1v1h-1zM1 204h1v1h-1zM2 4h1v1h-1zM2 67h1v1h-1zM2 88h1v1h-1zM2 99h1v2h-1zM2 104h1v1h-1zM2 108h1v1h-1zM2 111h1v1h-1zM2 116h1v1h-1zM2 133h1v1h-1zM2 160h1v1h-1zM2 162h1v1h-1zM2 178h1v2h-1zM2 181h1v1h-1zM2 188h1v1h-1zM2 202h1v1h-1zM3 12h1v1h-1zM3 52h1v1h-1zM3 60h1v1h-1zM3 77h1v1h-1zM3 81h1v1h-1zM3 102h1v1h-1zM3 104h1v1h-1zM3 107h1v1h-1zM3 121h1v1h-1zM3 126h1v1h-1zM3 146h1v1h-1zM3 150h1v1h-1zM3 170h1v1h-1zM3 178h1v1h-1zM3 180h1v1h-1zM3 192h1v1h-1zM4 39h1v1h-1zM4 62h1v1h-1zM4 79h1v3h-1zM4 87h1v1h-1zM4 92h1v1h-1zM4 99h1v2h-1zM4 107h1v1h-1zM4 122h1v1h-1zM4 129h1v1h-1zM4 139h1v1h-1zM4 146h1v2h-1zM4 149h1v2h-1zM4 160h1v1h-1zM4 181h1v1h-1zM5 62h1v1h-1zM5 77h1v1h-1zM5 79h1v1h-1zM5 104h1v1h-1zM5 107h1v1h-1zM5 128h1v1h-1zM5 138h1v1h-1zM5 140h1v1h-1zM5 146h1v1h-1zM5 150h1v1h-1zM5 167h1v1h-1zM5 172h1v1h-1zM5 179h1v1h-1zM5 188h1v1h-1zM5 193h1v1h-1zM5 202h1v1h-1zM6 66h1v1h-1zM6 80h1v1h-1zM6 92h1v1h-1zM6 102h1v1h-1zM6 118h1v1h-1zM6 137h1v1h-1zM6 146h1v1h-1zM6 162h1v1h-1zM6 169h1v1h-1zM6 178h1v1h-1zM6 181h1v1h-1zM6 207h1v1h-1zM6 222h1v1h-1zM7 58h1v1h-1zM7 62h1v1h-1zM7 79h1v1h-1zM7 81h1v1h-1zM7 84h1v1h-1zM7 95h1v1h-1zM7 102h1v1h-1zM7 105h1v1h-1zM7 108h1v1h-1zM7 136h1v1h-1zM7 146h1v2h-1zM7 155h1v2h-1zM7 166h1v1h-1zM7 168h1v1h-1zM7 176h1v1h-1zM7 179h1v1h-1zM7 193h1v1h-1zM7 207h1v1h-1zM7 211h1v1h-1zM7 220h1v1h-1zM7 239h1v1h-1zM8 12h1v1h-1zM8 28h1v1h-1zM8 30h1v1h-1zM8 34h1v1h-1zM8 46h1v1h-1zM8 89h1v1h-1zM8 107h1v1h-1zM8 132h1v1h-1zM9 12h1v1h-1zM9 46h1v1h-1zM9 51h1v1h-1zM9 60h1v1h-1zM9 63h1v1h-1zM9 81h1v1h-1zM9 103h1v1h-1zM9 111h1v1h-1zM10 46h1v2h-1zM10 51h1v1h-1zM10 65h1v1h-1zM10 85h1v1h-1zM10 103h1v1h-1zM10 111h1v1h-1zM10 128h1v1h-1zM10 132h1v1h-1zM11 7h1v1h-1zM11 10h1v1h-1zM11 22h1v1h-1zM11 34h1v1h-1zM11 46h1v1h-1zM11 50h1v1h-1zM11 65h1v1h-1zM11 80h1v1h-1zM11 85h1v1h-1zM11 118h1v1h-1zM11 139h1v1h-1zM11 146h1v1h-1zM12 0h1v1h-1zM12 10h1v1h-1zM12 27h1v2h-1zM12 51h1v1h-1zM12 63h1v1h-1zM12 65h1v1h-1zM12 74h1v1h-1zM12 80h1v2h-1zM12 99h1v1h-1zM12 107h1v1h-1zM12 111h1v1h-1zM12 146h1v1h-1zM12 223h1v1h-1zM13 26h1v1h-1zM13 32h1v1h-1zM13 80h1v1h-1zM13 96h1v1h-1zM14 14h1v1h-1zM14 26h1v1h-1zM14 35h1v1h-1zM14 46h1v1h-1zM14 50h1v1h-1zM14 65h1v1h-1zM14 118h1v1h-1zM14 148h1v1h-1zM14 201h1v1h-1zM14 220h1v1h-1zM15 80h1v1h-1zM15 103h1v1h-1zM16 4h1v1h-1zM16 41h1v1h-1zM16 43h1v1h-1zM16 47h1v1h-1zM16 64h1v1h-1zM16 98h1v1h-1zM16 116h1v1h-1zM16 131h1v1h-1zM16 158h1v2h-1zM16 164h1v2h-1zM16 184h1v1h-1zM16 238h1v1h-1zM17 19h1v1h-1zM17 39h1v1h-1zM17 46h1v1h-1zM17 52h1v1h-1zM17 61h1v1h-1zM17 65h1v1h-1zM17 74h1v1h-1zM17 80h1v1h-1zM17 105h1v1h-1zM17 118h1v1h-1zM17 136h1v1h-1zM17 146h1v1h-1zM17 162h1v2h-1zM17 176h1v1h-1zM17 184h1v1h-1zM17 186h1v1h-1zM17 189h1v1h-1zM17 214h1v1h-1zM17 218h1v1h-1zM18 0h1v2h-1zM18 4h1v2h-1zM18 25h1v1h-1zM18 35h1v1h-1zM18 37h1v2h-1zM18 48h1v1h-1zM18 60h1v1h-1zM18 63h1v1h-1zM18 65h1v1h-1zM18 69h1v1h-1zM18 90h1v1h-1zM18 120h1v1h-1zM18 153h1v1h-1zM18 158h1v1h-1zM18 168h1v1h-1zM18 183h1v1h-1zM18 201h1v1h-1zM18 212h1v1h-1zM18 227h1v1h-1zM19 25h1v1h-1zM19 51h1v1h-1zM19 53h1v1h-1zM19 61h1v1h-1zM19 66h1v1h-1zM19 82h1v1h-1zM19 91h1v1h-1zM19 95h1v1h-1zM19 106h1v1h-1zM19 111h1v1h-1zM19 124h1v2h-1zM19 148h1v1h-1zM19 161h1v2h-1zM19 164h1v1h-1zM19 182h1v1h-1zM19 222h1v1h-1zM19 236h1v1h-1zM20 19h1v1h-1zM20 34h1v1h-1zM20 37h1v1h-1zM20 48h1v1h-1zM20 50h1v1h-1zM20 52h1v1h-1zM20 59h1v1h-1zM20 70h1v1h-1zM20 91h1v1h-1zM20 94h1v1h-1zM20 119h1v1h-1zM20 134h1v2h-1zM20 144h1v1h-1zM20 158h1v1h-1zM20 168h1v1h-1zM20 187h1v1h-1zM20 201h1v1h-1zM20 213h1v1h-1zM21 4h1v2h-1zM21 19h1v1h-1zM21 26h1v1h-1zM21 35h1v1h-1zM21 39h1v1h-1zM21 48h1v1h-1zM21 50h1v1h-1zM21 76h1v1h-1zM21 82h1v1h-1zM21 101h1v1h-1zM21 121h1v1h-1zM21 131h1v2h-1zM21 137h1v1h-1zM21 140h1v1h-1zM21 150h1v1h-1zM21 153h1v1h-1zM21 162h1v1h-1zM21 164h1v3h-1zM21 203h1v1h-1zM21 213h1v1h-1zM21 237h1v1h-1zM22 0h1v2h-1zM22 34h1v1h-1zM22 50h1v2h-1zM22 66h1v1h-1zM22 111h1v1h-1zM22 116h1v2h-1zM22 129h1v3h-1zM22 133h1v1h-1zM22 147h1v1h-1zM22 156h1v1h-1zM22 160h1v1h-1zM22 184h1v1h-1zM22 186h1v1h-1zM22 212h1v1h-1zM22 232h1v1h-1zM23 19h1v1h-1zM23 34h1v1h-1zM23 37h1v3h-1zM23 44h1v1h-1zM23 48h1v1h-1zM23 50h1v1h-1zM23 55h1v1h-1zM23 93h1v1h-1zM23 106h1v1h-1zM23 111h1v1h-1zM23 116h1v1h-1zM23 129h1v1h-1zM23 157h1v2h-1zM23 161h1v1h-1zM23 182h1v2h-1z"/><path fill="#199ad2" d="M0 16h1v1h-1zM0 50h1v2h-1zM0 159h1v1h-1zM0 195h1v1h-1zM0 231h1v1h-1zM1 52h1v1h-1zM1 171h1v1h-1zM1 213h1v1h-1zM1 219h1v1h-1zM1 236h1v1h-1zM1 238h1v1h-1zM2 73h1v1h-1zM2 211h1v1h-1zM2 229h1v1h-1zM2 234h1v1h-1zM3 175h1v1h-1zM3 199h1v1h-1zM3 214h1v1h-1zM3 216h1v2h-1zM3 219h1v1h-1zM3 223h1v1h-1zM3 233h1v1h-1zM4 144h1v1h-1zM4 171h1v1h-1zM4 195h1v1h-1zM4 215h1v1h-1zM4 224h1v1h-1zM4 236h1v1h-1zM5 73h1v1h-1zM5 159h1v1h-1zM5 195h1v1h-1zM5 205h1v1h-1zM6 68h1v1h-1zM6 224h1v1h-1zM6 233h1v1h-1zM6 235h1v1h-1zM7 199h1v1h-1zM7 230h1v1h-1zM8 42h1v1h-1zM10 38h1v1h-1zM10 42h1v1h-1zM17 12h1v1h-1zM18 12h1v1h-1zM19 15h1v1h-1zM20 10h1v1h-1zM21 11h1v1h-1zM22 9h1v2h-1z"/><path fill="#3eb1de" d="M0 17h1v2h-1zM0 46h1v2h-1zM0 54h1v1h-1zM0 63h1v1h-1zM0 96h1v1h-1zM0 112h1v3h-1zM0 151h1v1h-1zM0 156h1v2h-1zM0 172h1v1h-1zM0 176h1v1h-1zM0 187h1v1h-1zM0 189h1v1h-1zM0 203h1v1h-1zM0 223h1v1h-1zM0 236h1v1h-1zM1 43h1v1h-1zM1 48h1v1h-1zM1 67h1v1h-1zM1 91h1v1h-1zM1 138h1v1h-1zM1 161h1v1h-1zM1 167h1v1h-1zM1 201h1v1h-1zM1 210h1v1h-1zM1 218h1v1h-1zM1 228h1v1h-1zM2 94h1v1h-1zM2 115h1v1h-1zM2 140h1v1h-1zM2 147h1v1h-1zM2 150h1v1h-1zM2 154h1v1h-1zM2 185h1v1h-1zM2 190h1v1h-1zM2 200h1v1h-1zM2 218h1v1h-1zM2 222h1v1h-1zM2 228h1v1h-1zM3 5h1v1h-1zM3 64h1v1h-1zM3 86h1v1h-1zM3 96h1v1h-1zM3 131h1v1h-1zM3 137h1v2h-1zM3 157h1v1h-1zM3 179h1v1h-1zM3 182h1v1h-1zM3 210h1v1h-1zM3 218h1v1h-1zM3 228h1v1h-1zM3 239h1v1h-1zM4 14h1v1h-1zM4 44h1v1h-1zM4 63h1v1h-1zM4 108h1v1h-1zM4 121h1v1h-1zM4 131h1v1h-1zM4 133h1v1h-1zM4 145h1v1h-1zM4 155h1v2h-1zM4 161h1v1h-1zM4 166h1v3h-1zM4 200h1v1h-1zM5 63h1v1h-1zM5 72h1v1h-1zM5 90h1v1h-1zM5 93h1v1h-1zM5 108h1v1h-1zM5 115h1v1h-1zM5 119h1v1h-1zM5 145h1v1h-1zM5 157h1v1h-1zM5 162h1v1h-1zM5 189h1v1h-1zM5 239h1v1h-1zM6 16h1v1h-1zM6 20h1v1h-1zM6 63h1v1h-1zM6 86h1v1h-1zM6 94h1v1h-1zM6 105h1v1h-1zM6 113h1v1h-1zM6 115h1v1h-1zM6 159h1v1h-1zM6 166h1v1h-1zM6 176h1v1h-1zM6 200h1v1h-1zM7 75h1v1h-1zM7 92h1v1h-1zM7 114h1v1h-1zM7 182h1v1h-1zM7 190h1v1h-1zM7 196h1v1h-1zM7 200h1v1h-1zM7 203h1v1h-1zM7 227h1v1h-1zM8 6h1v2h-1zM8 10h1v1h-1zM8 21h1v1h-1zM8 35h1v1h-1zM8 59h1v1h-1zM9 7h1v1h-1zM9 25h1v1h-1zM9 37h1v1h-1zM9 39h1v1h-1zM10 8h1v1h-1zM11 24h1v2h-1zM11 31h1v1h-1zM11 37h1v1h-1zM12 21h1v2h-1zM12 31h1v1h-1zM12 37h1v1h-1zM12 40h1v1h-1zM12 48h1v2h-1zM13 36h1v1h-1zM14 24h1v1h-1zM14 38h1v1h-1zM14 40h1v1h-1zM14 96h1v1h-1zM15 25h1v1h-1zM15 33h1v1h-1zM15 48h1v1h-1zM16 3h1v1h-1zM16 17h1v1h-1zM16 23h1v1h-1zM16 26h1v1h-1zM16 35h1v1h-1zM16 50h1v1h-1zM16 52h1v1h-1zM16 99h1v1h-1zM16 101h1v4h-1zM16 106h1v1h-1zM16 109h1v1h-1zM16 111h1v2h-1zM16 118h1v1h-1zM16 149h1v1h-1zM16 166h1v1h-1zM16 173h1v1h-1zM16 176h1v1h-1zM16 197h1v1h-1zM16 199h1v1h-1zM17 1h1v2h-1zM17 29h1v2h-1zM17 32h1v1h-1zM17 43h1v1h-1zM17 66h1v1h-1zM17 75h1v2h-1zM17 97h1v1h-1zM17 177h1v1h-1zM17 190h1v1h-1zM17 197h1v1h-1zM17 200h1v1h-1zM18 14h1v1h-1zM18 21h1v1h-1zM18 29h1v1h-1zM18 51h1v1h-1zM18 54h1v1h-1zM18 150h1v1h-1zM18 159h1v1h-1zM18 170h1v1h-1zM18 172h1v2h-1zM18 176h1v1h-1zM18 193h1v1h-1zM18 205h1v1h-1zM18 217h1v1h-1zM19 1h1v1h-1zM19 4h1v1h-1zM19 18h1v1h-1zM19 22h1v1h-1zM19 32h1v2h-1zM19 42h1v1h-1zM19 92h1v1h-1zM19 97h1v1h-1zM19 110h1v1h-1zM19 165h1v1h-1zM19 168h1v1h-1zM19 170h1v2h-1zM19 173h1v1h-1zM19 176h1v2h-1zM19 181h1v1h-1zM19 187h1v1h-1zM19 192h1v1h-1zM19 197h1v2h-1zM20 0h1v3h-1zM20 22h1v1h-1zM20 28h1v1h-1zM20 31h1v1h-1zM20 51h1v1h-1zM20 55h1v1h-1zM20 127h1v1h-1zM20 133h1v1h-1zM20 142h1v1h-1zM20 151h1v1h-1zM20 171h1v2h-1zM20 193h1v1h-1zM20 196h1v1h-1zM20 198h1v1h-1zM21 18h1v1h-1zM21 21h1v2h-1zM21 27h1v2h-1zM21 44h1v1h-1zM21 51h1v1h-1zM21 53h1v1h-1zM21 86h1v1h-1zM21 90h1v2h-1zM21 99h1v1h-1zM21 104h1v1h-1zM21 108h1v1h-1zM21 111h1v1h-1zM21 118h1v1h-1zM21 127h1v1h-1zM21 129h1v1h-1zM21 148h1v1h-1zM21 159h1v1h-1zM21 175h1v1h-1zM21 184h1v1h-1zM21 186h1v2h-1zM21 190h1v1h-1zM21 192h1v1h-1zM21 197h1v1h-1zM21 200h1v2h-1zM21 204h1v1h-1zM21 229h1v1h-1zM22 17h1v1h-1zM22 27h1v1h-1zM22 29h1v1h-1zM22 31h1v1h-1zM22 35h1v1h-1zM22 44h1v1h-1zM22 56h1v1h-1zM22 127h1v1h-1zM22 148h1v1h-1zM22 151h1v2h-1zM22 158h1v2h-1zM22 165h1v1h-1zM22 172h1v1h-1zM22 176h1v1h-1zM22 200h1v1h-1zM22 214h1v1h-1zM23 6h1v1h-1zM23 17h1v1h-1zM23 23h1v1h-1zM23 29h1v1h-1zM23 31h1v2h-1zM23 95h1v1h-1zM23 118h1v1h-1zM23 128h1v1h-1zM23 131h1v2h-1zM23 142h1v1h-1zM23 164h1v2h-1zM23 170h1v1h-1zM23 176h1v1h-1zM23 181h1v1h-1zM23 187h1v1h-1zM23 194h1v2h-1zM23 197h1v1h-1z"/><path fill="#8ed0ea" d="M0 20h1v2h-1zM0 43h1v1h-1zM0 56h1v1h-1zM0 69h1v1h-1zM0 78h1v1h-1zM0 82h1v4h-1zM0 97h1v2h-1zM0 106h1v1h-1zM0 123h1v1h-1zM0 183h1v1h-1zM0 210h1v1h-1zM0 222h1v1h-1zM0 228h1v1h-1zM1 5h1v1h-1zM1 44h1v1h-1zM1 46h1v1h-1zM1 54h1v1h-1zM1 61h1v1h-1zM1 78h1v1h-1zM1 87h1v1h-1zM1 89h1v1h-1zM1 95h1v1h-1zM1 98h1v1h-1zM1 104h1v1h-1zM1 107h1v1h-1zM1 191h1v1h-1zM2 2h1v1h-1zM2 13h1v1h-1zM2 15h1v1h-1zM2 17h1v1h-1zM2 38h1v2h-1zM2 41h1v1h-1zM2 53h1v1h-1zM2 61h1v1h-1zM2 64h1v1h-1zM2 70h1v1h-1zM2 97h1v2h-1zM2 109h1v1h-1zM2 123h1v1h-1zM2 127h1v1h-1zM2 152h1v1h-1zM2 163h1v1h-1zM2 183h1v1h-1zM2 209h1v1h-1zM2 238h1v1h-1zM3 11h1v1h-1zM3 13h1v1h-1zM3 18h1v1h-1zM3 31h1v2h-1zM3 38h1v1h-1zM3 48h1v1h-1zM3 66h1v1h-1zM3 78h1v1h-1zM3 85h1v1h-1zM3 95h1v1h-1zM3 97h1v1h-1zM3 153h1v1h-1zM3 183h1v1h-1zM4 11h1v1h-1zM4 19h1v1h-1zM4 31h1v1h-1zM4 66h1v1h-1zM4 82h1v2h-1zM4 102h1v1h-1zM4 106h1v1h-1zM4 123h1v1h-1zM4 134h1v1h-1zM4 164h1v1h-1zM5 21h1v1h-1zM5 66h1v1h-1zM5 70h1v1h-1zM5 101h1v1h-1zM5 109h1v1h-1zM5 124h1v1h-1zM5 130h1v1h-1zM5 133h1v1h-1zM5 141h1v1h-1zM5 164h1v1h-1zM6 59h1v1h-1zM6 61h1v1h-1zM6 71h1v1h-1zM6 89h1v1h-1zM6 95h1v1h-1zM6 98h1v1h-1zM6 116h1v1h-1zM6 122h1v1h-1zM6 170h1v1h-1zM7 0h1v1h-1zM7 55h1v1h-1zM7 78h1v1h-1zM7 82h1v1h-1zM7 97h1v2h-1zM7 101h1v1h-1zM7 116h1v1h-1zM7 123h1v1h-1zM7 126h1v1h-1zM7 132h1v1h-1zM7 135h1v1h-1zM7 153h1v1h-1zM7 170h1v1h-1zM7 222h1v1h-1zM8 19h1v1h-1zM8 53h1v1h-1zM8 55h1v1h-1zM8 62h1v1h-1zM8 69h1v1h-1zM8 76h1v1h-1zM8 84h1v1h-1zM8 97h1v1h-1zM8 122h1v1h-1zM8 134h1v1h-1zM8 145h1v1h-1zM8 148h1v1h-1zM8 217h1v1h-1zM9 0h1v1h-1zM9 27h1v1h-1zM9 29h1v1h-1zM9 48h1v1h-1zM9 58h1v1h-1zM9 62h1v1h-1zM9 76h1v1h-1zM9 79h1v1h-1zM9 82h1v1h-1zM9 91h1v1h-1zM9 120h1v1h-1zM9 132h1v1h-1zM9 207h1v1h-1zM10 11h1v2h-1zM10 14h1v1h-1zM10 29h1v1h-1zM10 63h1v1h-1zM10 66h1v1h-1zM10 74h1v1h-1zM10 80h1v2h-1zM10 84h1v1h-1zM10 106h1v1h-1zM10 120h1v1h-1zM10 125h1v1h-1zM10 135h1v1h-1zM10 148h1v1h-1zM10 202h1v1h-1zM10 211h1v1h-1zM11 0h1v1h-1zM11 4h1v1h-1zM11 15h1v1h-1zM11 27h1v1h-1zM11 52h1v1h-1zM11 62h1v1h-1zM11 76h1v1h-1zM11 78h1v1h-1zM11 90h1v1h-1zM11 104h1v1h-1zM11 133h1v2h-1zM11 140h1v1h-1zM12 1h1v1h-1zM12 4h1v1h-1zM12 13h1v1h-1zM12 15h1v1h-1zM12 46h1v1h-1zM12 68h1v1h-1zM12 90h1v1h-1zM12 97h1v2h-1zM12 104h1v1h-1zM12 106h1v1h-1zM12 119h1v1h-1zM12 132h1v1h-1zM13 9h1v1h-1zM13 11h1v2h-1zM13 15h1v1h-1zM13 47h1v1h-1zM13 50h1v1h-1zM13 62h1v1h-1zM13 74h1v1h-1zM13 78h1v1h-1zM13 85h1v1h-1zM13 90h1v1h-1zM13 104h1v1h-1zM13 119h1v1h-1zM13 139h1v1h-1zM13 147h1v2h-1zM14 5h1v1h-1zM14 12h1v2h-1zM14 29h1v1h-1zM14 52h1v1h-1zM14 55h1v1h-1zM14 62h1v2h-1zM14 97h1v2h-1zM14 105h1v1h-1zM14 120h1v1h-1zM14 150h1v1h-1zM15 0h1v1h-1zM15 15h1v1h-1zM15 66h1v1h-1zM15 74h1v2h-1zM15 78h1v2h-1zM15 102h1v1h-1zM15 106h1v1h-1zM15 122h1v2h-1zM15 223h1v1h-1zM15 233h1v1h-1zM16 38h1v1h-1zM16 67h1v1h-1zM16 77h1v1h-1zM16 81h1v2h-1zM16 85h1v1h-1zM16 121h1v2h-1zM16 140h1v1h-1zM16 142h1v1h-1zM16 144h1v1h-1zM16 185h1v1h-1zM16 228h1v1h-1zM17 25h1v1h-1zM17 36h1v1h-1zM17 47h1v1h-1zM17 72h1v1h-1zM17 79h1v1h-1zM17 81h1v1h-1zM17 107h1v2h-1zM17 112h1v1h-1zM17 138h1v1h-1zM17 142h1v3h-1zM17 205h1v1h-1zM18 72h1v1h-1zM18 75h1v1h-1zM18 89h1v1h-1zM18 94h1v1h-1zM18 98h1v2h-1zM18 103h1v2h-1zM18 156h1v1h-1zM18 232h1v1h-1zM19 36h1v1h-1zM19 40h1v1h-1zM19 47h1v2h-1zM19 65h1v1h-1zM19 79h1v1h-1zM19 84h1v2h-1zM19 103h1v2h-1zM19 108h1v1h-1zM19 131h1v1h-1zM19 134h1v1h-1zM19 142h1v1h-1zM19 146h1v1h-1zM19 150h1v1h-1zM19 185h1v1h-1zM19 234h1v1h-1zM20 40h1v1h-1zM20 57h1v1h-1zM20 64h1v1h-1zM20 86h1v1h-1zM20 89h1v1h-1zM20 121h1v2h-1zM20 156h1v1h-1zM20 182h1v1h-1zM20 184h1v1h-1zM20 206h1v1h-1zM20 210h1v1h-1zM20 219h1v1h-1zM20 225h1v1h-1zM20 231h1v1h-1zM21 68h1v1h-1zM21 72h1v1h-1zM21 94h1v1h-1zM21 135h1v1h-1zM21 143h1v2h-1zM21 146h1v1h-1zM21 156h1v1h-1zM21 169h1v1h-1zM21 171h1v3h-1zM21 211h1v1h-1zM21 228h1v1h-1zM21 232h1v1h-1zM21 234h1v1h-1zM21 238h1v1h-1zM22 36h1v1h-1zM22 65h1v1h-1zM22 70h1v1h-1zM22 72h1v1h-1zM22 98h1v1h-1zM22 102h1v1h-1zM22 113h1v1h-1zM22 115h1v1h-1zM22 121h1v2h-1zM22 124h1v1h-1zM22 142h1v1h-1zM22 185h1v1h-1zM22 203h1v1h-1zM22 213h1v1h-1zM22 218h1v1h-1zM22 231h1v1h-1zM23 36h1v1h-1zM23 54h1v1h-1zM23 59h1v1h-1zM23 62h1v2h-1zM23 66h1v1h-1zM23 122h1v1h-1zM23 144h1v1h-1zM23 206h1v1h-1zM23 214h1v1h-1zM23 217h1v1h-1zM23 223h1v1h-1zM23 237h1v1h-1z"/><path fill="#c6e2ef" d="M0 22h1v1h-1zM0 174h1v1h-1zM1 39h1v1h-1zM2 1h1v1h-1zM2 5h1v1h-1zM2 21h1v1h-1zM2 33h1v1h-1zM2 48h1v1h-1zM2 239h1v1h-1zM3 9h1v1h-1zM3 25h1v1h-1zM5 0h1v1h-1zM5 43h1v1h-1zM6 6h1v1h-1zM6 11h1v1h-1zM6 24h1v1h-1zM6 46h1v1h-1zM6 53h1v1h-1zM6 165h1v1h-1zM7 6h1v1h-1zM7 21h1v1h-1zM8 1h1v1h-1zM8 93h1v1h-1zM8 108h1v1h-1zM8 141h1v1h-1zM8 171h1v1h-1zM8 184h1v2h-1zM8 196h1v2h-1zM9 3h1v1h-1zM9 22h1v1h-1zM9 64h1v1h-1zM9 70h1v1h-1zM9 93h1v1h-1zM9 108h1v1h-1zM9 143h1v2h-1zM9 156h1v1h-1zM9 221h1v1h-1zM9 233h1v1h-1zM10 2h1v1h-1zM10 64h1v1h-1zM10 77h1v1h-1zM10 94h1v2h-1zM10 149h1v1h-1zM10 151h1v2h-1zM10 168h1v1h-1zM10 208h1v2h-1zM10 220h1v1h-1zM10 233h1v1h-1zM11 92h1v1h-1zM11 141h1v2h-1zM11 184h1v1h-1zM11 218h1v1h-1zM11 222h1v1h-1zM12 3h1v1h-1zM12 70h1v1h-1zM12 92h1v1h-1zM12 108h1v1h-1zM12 112h1v1h-1zM12 121h1v1h-1zM12 125h1v2h-1zM12 129h1v1h-1zM12 136h1v1h-1zM12 174h1v1h-1zM12 204h1v2h-1zM12 214h1v2h-1zM12 239h1v1h-1zM13 2h1v1h-1zM13 57h1v1h-1zM13 61h1v1h-1zM13 73h1v1h-1zM13 93h1v1h-1zM13 126h1v1h-1zM13 130h1v1h-1zM13 138h1v1h-1zM13 143h1v1h-1zM13 153h1v1h-1zM13 159h1v1h-1zM13 163h1v1h-1zM13 199h1v1h-1zM14 19h1v1h-1zM14 71h1v1h-1zM14 109h1v1h-1zM14 130h1v1h-1zM14 134h1v1h-1zM14 138h1v1h-1zM14 140h1v1h-1zM14 144h1v1h-1zM14 154h1v1h-1zM14 158h1v1h-1zM14 215h1v1h-1zM14 232h1v1h-1zM15 56h1v1h-1zM15 71h1v1h-1zM15 93h1v1h-1zM15 121h1v1h-1zM15 126h1v2h-1zM15 138h1v1h-1zM15 140h1v1h-1zM15 143h1v1h-1zM15 150h1v1h-1zM15 154h1v1h-1zM15 159h1v1h-1zM15 201h1v1h-1zM15 224h1v1h-1zM15 232h1v1h-1zM16 179h1v2h-1zM16 230h1v1h-1zM16 233h1v1h-1zM17 17h1v1h-1zM17 231h1v1h-1zM17 234h1v1h-1zM18 123h1v1h-1zM18 181h1v1h-1zM18 230h1v1h-1zM19 45h1v1h-1zM19 69h1v1h-1zM19 71h1v1h-1zM19 74h1v1h-1zM19 153h1v1h-1zM19 201h1v1h-1zM19 204h1v1h-1zM19 227h1v1h-1zM19 232h1v1h-1zM20 79h1v1h-1zM20 81h1v1h-1zM20 220h1v1h-1zM20 230h1v1h-1zM20 238h1v1h-1zM21 1h1v1h-1zM21 14h1v1h-1zM21 120h1v1h-1zM21 139h1v1h-1zM21 168h1v1h-1zM21 207h1v1h-1zM21 225h1v1h-1zM22 123h1v1h-1zM22 223h1v1h-1zM22 233h1v1h-1zM23 213h1v1h-1zM23 215h1v2h-1zM23 224h1v1h-1z"/><path fill="#b5ddee" d="M0 24h1v1h-1zM0 66h1v1h-1zM0 110h1v1h-1zM0 134h1v1h-1zM0 152h1v1h-1zM1 1h1v2h-1zM1 33h1v1h-1zM1 40h1v2h-1zM1 66h1v1h-1zM1 103h1v1h-1zM1 134h1v1h-1zM1 142h1v1h-1zM2 30h1v1h-1zM2 49h1v1h-1zM2 52h1v1h-1zM2 66h1v1h-1zM3 6h1v1h-1zM3 21h1v1h-1zM3 34h1v2h-1zM3 51h1v1h-1zM3 56h1v1h-1zM3 186h1v1h-1zM4 46h1v1h-1zM4 58h1v1h-1zM4 165h1v1h-1zM5 11h1v1h-1zM5 71h1v1h-1zM5 142h1v1h-1zM5 152h1v1h-1zM5 165h1v1h-1zM6 8h1v1h-1zM6 12h1v1h-1zM6 15h1v1h-1zM6 44h1v1h-1zM6 134h1v1h-1zM6 142h1v1h-1zM6 164h1v1h-1zM7 11h1v1h-1zM7 54h1v1h-1zM7 152h1v1h-1zM7 160h1v1h-1zM8 5h1v1h-1zM8 58h1v1h-1zM8 72h1v1h-1zM8 77h1v1h-1zM8 83h1v1h-1zM8 94h1v1h-1zM8 100h1v1h-1zM8 116h1v2h-1zM8 130h1v1h-1zM8 170h1v1h-1zM8 203h1v1h-1zM8 219h1v1h-1zM8 221h1v1h-1zM9 19h1v1h-1zM9 71h1v1h-1zM9 95h1v1h-1zM9 97h1v1h-1zM9 100h1v1h-1zM9 116h1v2h-1zM9 121h1v1h-1zM9 126h1v2h-1zM9 129h1v1h-1zM9 137h1v1h-1zM9 140h1v1h-1zM9 212h1v1h-1zM9 214h1v1h-1zM10 15h1v1h-1zM10 20h1v1h-1zM10 56h1v1h-1zM10 62h1v1h-1zM10 83h1v1h-1zM10 117h1v1h-1zM10 126h1v1h-1zM10 147h1v1h-1zM10 216h1v1h-1zM11 2h1v1h-1zM11 5h1v1h-1zM11 9h1v1h-1zM11 17h1v1h-1zM11 54h1v3h-1zM11 72h1v1h-1zM11 82h1v2h-1zM11 93h1v1h-1zM11 98h1v1h-1zM11 110h1v1h-1zM11 116h1v1h-1zM11 124h1v4h-1zM11 130h1v1h-1zM11 145h1v1h-1zM11 152h1v1h-1zM11 155h1v1h-1zM11 216h1v2h-1zM12 53h1v1h-1zM12 56h1v2h-1zM12 83h1v1h-1zM12 100h1v1h-1zM12 124h1v1h-1zM12 133h1v1h-1zM12 137h1v1h-1zM12 150h1v1h-1zM12 152h1v1h-1zM12 197h1v1h-1zM12 203h1v1h-1zM12 206h1v1h-1zM12 211h1v1h-1zM12 225h1v1h-1zM12 231h1v1h-1zM12 233h1v1h-1zM13 17h1v2h-1zM13 52h1v3h-1zM13 66h1v1h-1zM13 68h1v1h-1zM13 120h1v1h-1zM13 123h1v1h-1zM13 128h1v1h-1zM13 131h1v2h-1zM13 136h1v1h-1zM13 151h1v1h-1zM13 223h1v1h-1zM13 233h1v1h-1zM14 17h1v2h-1zM14 56h1v2h-1zM14 69h1v1h-1zM14 77h1v1h-1zM14 83h1v1h-1zM14 91h1v1h-1zM14 95h1v1h-1zM14 121h1v1h-1zM14 123h1v1h-1zM14 128h1v1h-1zM14 133h1v1h-1zM14 139h1v1h-1zM14 207h1v1h-1zM14 214h1v1h-1zM14 217h1v1h-1zM14 224h1v1h-1zM14 238h1v2h-1zM15 1h1v1h-1zM15 9h1v1h-1zM15 11h1v1h-1zM15 52h1v4h-1zM15 57h1v1h-1zM15 61h1v1h-1zM15 69h1v1h-1zM15 82h1v2h-1zM15 91h1v1h-1zM15 128h1v1h-1zM15 130h1v1h-1zM15 213h1v1h-1zM15 216h1v2h-1zM15 222h1v1h-1zM16 40h1v1h-1zM16 139h1v1h-1zM16 202h1v1h-1zM16 222h1v1h-1zM16 229h1v1h-1zM16 239h1v1h-1zM17 78h1v1h-1zM17 86h1v1h-1zM17 102h1v1h-1zM17 114h1v1h-1zM17 141h1v1h-1zM17 169h1v1h-1zM17 204h1v1h-1zM17 208h1v2h-1zM17 211h1v1h-1zM17 220h1v1h-1zM17 230h1v1h-1zM17 237h1v1h-1zM18 77h1v1h-1zM18 100h1v1h-1zM18 102h1v1h-1zM18 204h1v1h-1zM18 213h1v1h-1zM18 218h1v1h-1zM18 226h1v1h-1zM19 94h1v1h-1zM19 101h1v1h-1zM19 126h1v1h-1zM19 203h1v1h-1zM19 215h1v1h-1zM19 219h1v1h-1zM19 221h1v1h-1zM19 230h1v1h-1zM20 68h1v1h-1zM20 84h1v1h-1zM20 87h1v1h-1zM20 114h1v1h-1zM20 126h1v1h-1zM20 207h1v1h-1zM20 211h1v1h-1zM20 236h1v1h-1zM21 123h1v1h-1zM21 170h1v1h-1zM21 209h1v1h-1zM21 216h1v1h-1zM22 67h1v1h-1zM22 206h1v1h-1zM22 227h1v2h-1zM22 236h1v1h-1zM23 60h1v1h-1zM23 67h1v1h-1zM23 123h1v1h-1zM23 203h1v1h-1zM23 232h1v3h-1zM23 236h1v1h-1zM23 238h1v1h-1z"/><path fill="#d7e8f0" d="M0 25h1v1h-1zM1 0h1v1h-1zM1 6h1v1h-1zM1 21h1v1h-1zM1 31h1v1h-1zM1 34h1v1h-1zM2 20h1v1h-1zM2 24h1v1h-1zM2 35h1v1h-1zM2 51h1v1h-1zM2 54h1v1h-1zM2 170h1v1h-1zM3 8h1v1h-1zM3 29h1v1h-1zM3 90h1v1h-1zM4 45h1v1h-1zM4 50h1v1h-1zM5 1h1v1h-1zM5 3h1v1h-1zM5 22h1v1h-1zM5 24h1v2h-1zM5 33h1v1h-1zM5 37h1v1h-1zM5 47h1v1h-1zM5 49h1v1h-1zM5 53h1v1h-1zM6 7h1v1h-1zM6 135h1v1h-1zM7 10h1v1h-1zM7 50h1v1h-1zM8 3h1v1h-1zM8 92h1v1h-1zM8 150h1v3h-1zM8 156h1v1h-1zM8 159h1v1h-1zM8 169h1v1h-1zM8 195h1v1h-1zM8 205h1v1h-1zM8 215h1v1h-1zM8 218h1v1h-1zM8 231h1v2h-1zM8 239h1v1h-1zM9 67h1v1h-1zM9 87h1v1h-1zM9 109h1v1h-1zM9 113h1v1h-1zM9 142h1v1h-1zM9 148h1v1h-1zM9 196h1v1h-1zM9 204h1v2h-1zM9 238h1v1h-1zM10 3h1v1h-1zM10 67h1v1h-1zM10 70h1v1h-1zM10 86h1v1h-1zM10 88h1v1h-1zM10 101h1v1h-1zM10 156h1v1h-1zM10 162h1v1h-1zM10 199h1v1h-1zM10 210h1v1h-1zM10 214h1v1h-1zM10 221h1v1h-1zM10 224h1v2h-1zM11 67h1v1h-1zM11 154h1v1h-1zM11 161h1v1h-1zM11 238h1v1h-1zM12 141h1v2h-1zM12 149h1v1h-1zM12 168h1v1h-1zM12 172h1v1h-1zM12 178h1v1h-1zM12 219h1v1h-1zM12 227h1v1h-1zM12 229h1v1h-1zM13 3h1v1h-1zM13 59h1v1h-1zM13 64h1v1h-1zM13 70h1v1h-1zM13 129h1v1h-1zM13 141h1v1h-1zM13 156h1v1h-1zM13 200h1v1h-1zM13 222h1v1h-1zM13 224h1v1h-1zM13 237h1v1h-1zM14 3h1v1h-1zM14 64h1v1h-1zM14 67h1v1h-1zM14 88h1v1h-1zM14 113h1v1h-1zM14 169h1v1h-1zM14 192h1v2h-1zM14 195h1v1h-1zM14 200h1v1h-1zM14 211h1v1h-1zM14 230h1v1h-1zM14 233h1v1h-1zM15 3h1v1h-1zM15 16h1v1h-1zM15 67h1v1h-1zM15 113h1v1h-1zM15 137h1v1h-1zM15 149h1v1h-1zM15 153h1v1h-1zM15 157h1v1h-1zM15 196h1v1h-1zM15 205h1v1h-1zM15 207h1v1h-1zM15 215h1v1h-1zM15 225h1v1h-1zM16 59h1v1h-1zM16 221h1v1h-1zM17 227h1v1h-1zM17 239h1v1h-1zM18 114h1v1h-1zM18 182h1v1h-1zM18 220h1v1h-1zM19 72h1v1h-1zM19 229h1v1h-1zM20 235h1v1h-1zM21 224h1v1h-1zM21 235h1v1h-1zM21 239h1v1h-1zM22 207h1v1h-1zM22 209h1v1h-1zM22 238h1v2h-1zM23 219h1v1h-1zM23 221h1v1h-1zM23 228h1v1h-1zM23 230h1v1h-1z"/><path fill="#bde0ef" d="M0 26h1v1h-1zM0 37h1v2h-1zM0 76h1v1h-1zM0 142h1v1h-1zM1 45h1v1h-1zM1 110h1v1h-1zM1 186h1v1h-1zM2 3h1v1h-1zM2 23h1v1h-1zM2 56h1v2h-1zM3 7h1v1h-1zM3 14h1v1h-1zM3 40h1v1h-1zM3 50h1v1h-1zM4 47h1v1h-1zM4 186h1v1h-1zM5 5h1v1h-1zM5 134h1v1h-1zM6 25h1v1h-1zM6 47h1v1h-1zM6 152h1v1h-1zM7 1h1v1h-1zM7 14h1v2h-1zM7 44h1v1h-1zM7 53h1v1h-1zM7 134h1v1h-1zM7 142h1v1h-1zM7 186h1v1h-1zM8 2h1v1h-1zM8 64h1v1h-1zM8 67h1v1h-1zM8 73h1v1h-1zM8 91h1v1h-1zM8 95h1v1h-1zM8 129h1v1h-1zM8 144h1v1h-1zM8 202h1v1h-1zM8 206h1v1h-1zM8 208h1v1h-1zM9 2h1v1h-1zM9 16h1v1h-1zM9 206h1v1h-1zM9 211h1v1h-1zM9 223h1v1h-1zM9 234h1v1h-1zM10 61h1v1h-1zM10 73h1v1h-1zM10 78h1v1h-1zM10 82h1v1h-1zM10 91h1v1h-1zM10 100h1v1h-1zM10 200h1v1h-1zM10 206h1v1h-1zM10 231h1v2h-1zM11 18h1v2h-1zM11 57h1v2h-1zM11 61h1v1h-1zM11 64h1v1h-1zM11 69h1v1h-1zM11 100h1v1h-1zM11 121h1v1h-1zM11 129h1v1h-1zM11 137h1v1h-1zM11 143h1v1h-1zM11 148h1v1h-1zM11 156h1v1h-1zM11 211h1v1h-1zM11 214h1v1h-1zM11 232h1v1h-1zM12 2h1v1h-1zM12 16h1v1h-1zM12 64h1v1h-1zM12 77h1v1h-1zM12 93h1v1h-1zM12 109h1v1h-1zM12 116h1v1h-1zM12 127h1v2h-1zM12 135h1v1h-1zM12 143h1v1h-1zM12 151h1v1h-1zM12 156h1v1h-1zM12 167h1v1h-1zM12 170h1v1h-1zM12 217h1v1h-1zM12 220h1v1h-1zM12 224h1v1h-1zM12 230h1v1h-1zM12 232h1v1h-1zM13 19h1v1h-1zM13 56h1v1h-1zM13 69h1v1h-1zM13 72h1v1h-1zM13 121h1v1h-1zM13 125h1v1h-1zM13 133h1v3h-1zM13 137h1v1h-1zM13 140h1v1h-1zM13 149h1v2h-1zM13 155h1v1h-1zM13 196h1v2h-1zM13 221h1v1h-1zM14 72h1v2h-1zM14 93h1v1h-1zM14 100h1v1h-1zM14 108h1v1h-1zM14 117h1v1h-1zM14 125h1v1h-1zM14 131h1v2h-1zM14 155h1v1h-1zM14 199h1v1h-1zM14 212h1v1h-1zM14 218h1v1h-1zM14 222h1v1h-1zM14 225h1v1h-1zM15 5h1v1h-1zM15 19h1v1h-1zM15 64h1v1h-1zM15 72h1v1h-1zM15 90h1v1h-1zM15 100h1v1h-1zM15 112h1v1h-1zM15 147h1v1h-1zM15 156h1v1h-1zM16 78h1v1h-1zM16 123h1v1h-1zM16 225h1v1h-1zM17 88h1v2h-1zM17 113h1v1h-1zM17 123h1v1h-1zM17 167h1v1h-1zM17 170h1v1h-1zM17 224h1v1h-1zM17 229h1v1h-1zM17 236h1v1h-1zM18 79h1v1h-1zM18 101h1v1h-1zM18 207h1v2h-1zM18 225h1v1h-1zM18 239h1v1h-1zM19 57h1v1h-1zM19 67h1v1h-1zM19 73h1v1h-1zM19 100h1v1h-1zM19 127h1v2h-1zM19 138h1v1h-1zM19 154h1v1h-1zM19 207h1v1h-1zM19 212h1v1h-1zM20 77h1v1h-1zM20 85h1v1h-1zM20 123h1v1h-1zM20 221h1v2h-1zM20 224h1v1h-1zM20 228h1v1h-1zM20 237h1v1h-1zM21 119h1v1h-1zM21 208h1v1h-1zM22 68h1v1h-1zM22 126h1v1h-1zM22 210h1v2h-1zM22 224h1v1h-1zM22 237h1v1h-1zM23 57h1v1h-1zM23 68h1v1h-1zM23 87h1v1h-1zM23 126h1v1h-1zM23 202h1v1h-1zM23 222h1v1h-1z"/><path fill="#f4dacf" d="M0 27h1v1h-1zM1 16h1v1h-1zM2 79h1v1h-1zM4 33h1v1h-1zM7 29h1v1h-1zM7 40h1v1h-1zM8 161h1v1h-1zM8 226h1v3h-1zM9 160h1v2h-1zM9 169h1v1h-1zM9 173h1v1h-1zM9 180h1v1h-1zM9 198h1v1h-1zM9 227h1v1h-1zM10 165h1v1h-1zM10 176h1v1h-1zM10 181h1v1h-1zM11 176h1v1h-1zM11 191h1v1h-1zM11 204h1v1h-1zM11 235h1v1h-1zM12 177h1v1h-1zM12 182h1v1h-1zM13 108h1v1h-1zM13 165h1v2h-1zM13 173h1v1h-1zM13 206h1v1h-1zM13 208h1v1h-1zM13 228h1v1h-1zM15 125h1v1h-1zM15 135h1v1h-1zM15 164h1v1h-1zM15 166h1v1h-1zM15 173h1v2h-1zM15 187h1v1h-1zM15 208h1v1h-1zM15 235h1v1h-1zM16 214h1v1h-1zM20 162h1v1h-1z"/><path fill="#fad4c3" d="M0 28h1v1h-1zM0 32h1v1h-1zM3 134h1v1h-1zM5 45h1v1h-1zM6 26h1v1h-1zM7 39h1v1h-1zM7 41h1v1h-1zM8 165h1v1h-1zM8 199h1v2h-1zM8 229h1v1h-1zM9 165h1v1h-1zM9 175h1v1h-1zM9 181h1v1h-1zM9 191h1v1h-1zM10 179h1v1h-1zM11 169h1v1h-1zM11 171h1v1h-1zM11 182h1v1h-1zM11 193h1v1h-1zM12 179h1v1h-1zM13 190h1v1h-1zM14 176h1v1h-1zM14 229h1v1h-1zM15 171h1v1h-1zM15 178h1v1h-1zM15 180h1v1h-1zM16 206h1v1h-1zM16 213h1v1h-1z"/><path fill="#f7d7c9" d="M0 29h1v1h-1zM1 14h1v1h-1zM1 17h1v1h-1zM2 6h1v1h-1zM3 165h1v1h-1zM7 56h1v1h-1zM8 164h1v1h-1zM8 176h1v1h-1zM8 192h1v1h-1zM8 236h1v1h-1zM9 172h1v1h-1zM9 192h1v1h-1zM10 178h1v1h-1zM10 190h1v1h-1zM11 165h1v2h-1zM11 181h1v1h-1zM11 199h1v1h-1zM11 229h1v1h-1zM12 61h1v1h-1zM12 176h1v1h-1zM13 161h1v1h-1zM13 175h1v1h-1zM13 180h1v1h-1zM13 182h1v1h-1zM14 9h1v1h-1zM15 169h1v1h-1zM15 192h1v1h-1zM15 236h1v1h-1z"/><path fill="#e7e5e4" d="M0 30h1v1h-1zM2 25h1v1h-1zM2 29h1v1h-1zM2 50h1v1h-1zM4 27h1v2h-1zM5 6h1v1h-1zM5 28h1v3h-1zM5 36h1v1h-1zM5 41h1v2h-1zM6 14h1v1h-1zM6 77h1v1h-1zM7 28h1v1h-1zM7 34h1v1h-1zM7 42h1v1h-1zM7 45h1v1h-1zM7 180h1v1h-1zM8 50h1v1h-1zM8 87h1v1h-1zM8 162h1v1h-1zM8 180h1v2h-1zM8 183h1v1h-1zM8 189h1v1h-1zM8 223h1v1h-1zM8 225h1v1h-1zM9 105h1v2h-1zM9 114h1v1h-1zM9 154h1v1h-1zM9 157h1v1h-1zM9 162h1v1h-1zM9 178h1v1h-1zM9 237h1v1h-1zM10 150h1v1h-1zM10 159h1v1h-1zM10 171h1v1h-1zM10 183h1v1h-1zM10 194h1v1h-1zM10 205h1v1h-1zM10 227h1v1h-1zM10 229h1v1h-1zM10 235h1v1h-1zM11 157h1v1h-1zM11 174h1v1h-1zM11 188h1v2h-1zM11 192h1v1h-1zM11 194h1v1h-1zM11 233h1v1h-1zM12 145h1v1h-1zM12 153h1v1h-1zM12 181h1v1h-1zM12 209h1v1h-1zM12 236h1v1h-1zM13 67h1v1h-1zM13 105h1v1h-1zM13 115h1v1h-1zM13 162h1v1h-1zM13 167h1v2h-1zM13 174h1v1h-1zM13 185h1v1h-1zM13 189h1v1h-1zM13 192h1v2h-1zM13 198h1v1h-1zM14 115h1v1h-1zM14 161h1v1h-1zM14 166h1v1h-1zM14 171h1v1h-1zM14 174h1v1h-1zM14 178h1v1h-1zM14 180h1v1h-1zM14 186h1v1h-1zM14 203h1v1h-1zM14 208h1v1h-1zM14 210h1v1h-1zM14 228h1v1h-1zM14 235h1v1h-1zM15 228h1v1h-1zM16 203h1v1h-1zM16 216h1v1h-1zM17 33h1v2h-1zM17 69h1v2h-1zM17 221h1v2h-1zM19 206h1v1h-1zM20 45h1v1h-1zM21 219h1v1h-1zM23 227h1v1h-1z"/><path fill="#dfe6ea" d="M0 31h1v1h-1zM0 39h1v1h-1zM0 185h1v1h-1zM1 20h1v1h-1zM2 8h1v1h-1zM2 55h1v1h-1zM3 22h1v1h-1zM3 42h1v1h-1zM3 45h1v1h-1zM5 2h1v1h-1zM5 58h1v1h-1zM5 114h1v1h-1zM6 13h1v1h-1zM6 28h1v1h-1zM6 58h1v1h-1zM7 9h1v1h-1zM7 164h1v1h-1zM7 181h1v1h-1zM8 17h1v1h-1zM8 178h1v1h-1zM8 187h1v1h-1zM8 194h1v1h-1zM8 224h1v1h-1zM8 234h1v1h-1zM8 237h1v1h-1zM9 115h1v1h-1zM9 135h1v1h-1zM9 174h1v1h-1zM9 187h1v1h-1zM9 208h1v1h-1zM9 239h1v1h-1zM10 87h1v1h-1zM10 92h1v1h-1zM10 108h1v1h-1zM10 114h1v1h-1zM10 157h1v1h-1zM10 163h1v1h-1zM10 170h1v1h-1zM10 197h1v1h-1zM10 230h1v1h-1zM10 237h1v1h-1zM11 86h1v1h-1zM11 109h1v1h-1zM11 158h1v1h-1zM11 180h1v1h-1zM11 186h1v1h-1zM11 210h1v1h-1zM11 223h1v3h-1zM11 237h1v1h-1zM12 86h1v1h-1zM12 115h1v1h-1zM12 169h1v1h-1zM12 184h1v1h-1zM12 208h1v1h-1zM12 228h1v1h-1zM13 87h1v1h-1zM13 101h1v1h-1zM13 106h1v1h-1zM13 157h1v1h-1zM13 194h1v1h-1zM13 211h1v2h-1zM13 225h1v2h-1zM13 231h1v1h-1zM13 239h1v1h-1zM14 86h1v1h-1zM14 141h1v2h-1zM14 163h1v1h-1zM14 168h1v1h-1zM14 173h1v1h-1zM14 182h1v2h-1zM14 204h1v1h-1zM14 209h1v1h-1zM14 226h1v1h-1zM15 70h1v1h-1zM15 162h1v1h-1zM15 194h1v1h-1zM15 202h1v1h-1zM15 206h1v1h-1zM15 237h1v1h-1zM16 205h1v1h-1zM17 18h1v1h-1zM17 223h1v1h-1zM17 228h1v1h-1zM17 232h1v1h-1zM18 221h1v1h-1zM18 233h1v1h-1zM19 156h1v1h-1zM19 208h1v1h-1zM22 23h1v1h-1zM22 99h1v2h-1zM22 208h1v1h-1zM22 235h1v1h-1zM23 211h1v1h-1zM23 235h1v1h-1z"/><path fill="#ebe4e1" d="M0 33h1v2h-1zM0 36h1v1h-1zM0 184h1v1h-1zM0 200h1v2h-1zM1 165h1v1h-1zM3 133h1v1h-1zM5 31h1v2h-1zM5 48h1v1h-1zM5 50h1v1h-1zM6 29h1v1h-1zM6 57h1v1h-1zM7 31h1v1h-1zM7 37h1v1h-1zM7 57h1v1h-1zM8 16h1v1h-1zM8 157h1v1h-1zM8 177h1v1h-1zM8 193h1v1h-1zM9 159h1v1h-1zM9 184h1v1h-1zM9 188h1v2h-1zM9 226h1v1h-1zM9 231h1v1h-1zM10 153h1v1h-1zM10 158h1v1h-1zM10 161h1v1h-1zM10 166h1v1h-1zM10 174h1v1h-1zM10 180h1v1h-1zM10 193h1v1h-1zM10 198h1v1h-1zM10 215h1v1h-1zM11 160h1v1h-1zM11 167h1v1h-1zM11 177h1v1h-1zM11 183h1v1h-1zM11 201h1v1h-1zM11 208h1v1h-1zM11 227h1v1h-1zM11 239h1v1h-1zM12 62h1v1h-1zM12 164h1v1h-1zM12 180h1v1h-1zM12 189h1v1h-1zM13 114h1v1h-1zM13 160h1v1h-1zM13 164h1v1h-1zM13 171h1v1h-1zM13 186h1v1h-1zM13 188h1v1h-1zM13 203h1v1h-1zM13 234h1v1h-1zM14 10h1v1h-1zM14 164h1v2h-1zM14 175h1v1h-1zM14 179h1v1h-1zM14 187h1v1h-1zM15 134h1v1h-1zM15 160h1v1h-1zM15 168h1v1h-1zM15 186h1v1h-1zM15 193h1v1h-1zM15 204h1v1h-1zM15 230h1v1h-1zM16 19h1v1h-1zM16 219h1v1h-1zM17 99h1v2h-1zM18 224h1v1h-1zM19 157h1v1h-1zM19 209h1v1h-1zM20 163h1v1h-1zM20 215h1v2h-1zM21 221h1v2h-1z"/><path fill="#f1ded5" d="M0 35h1v1h-1zM3 89h1v1h-1zM4 127h1v1h-1zM5 39h1v1h-1zM5 44h1v1h-1zM6 54h1v1h-1zM7 30h1v1h-1zM7 32h1v2h-1zM7 35h1v1h-1zM7 38h1v1h-1zM8 153h1v1h-1zM8 173h1v1h-1zM8 175h1v1h-1zM8 179h1v1h-1zM8 186h1v1h-1zM8 190h1v2h-1zM9 163h1v1h-1zM9 168h1v1h-1zM9 170h1v1h-1zM9 176h1v1h-1zM9 182h1v2h-1zM9 190h1v1h-1zM9 194h1v1h-1zM9 230h1v1h-1zM9 236h1v1h-1zM10 172h1v2h-1zM10 182h1v1h-1zM10 186h1v1h-1zM10 189h1v1h-1zM10 192h1v1h-1zM10 195h1v2h-1zM11 172h1v1h-1zM11 195h1v1h-1zM11 200h1v1h-1zM11 202h1v2h-1zM11 228h1v1h-1zM11 234h1v1h-1zM13 205h1v1h-1zM13 210h1v1h-1zM13 227h1v1h-1zM13 235h1v2h-1zM14 236h1v1h-1zM15 161h1v1h-1zM15 188h1v1h-1zM15 227h1v1h-1zM16 211h1v1h-1zM16 231h1v1h-1zM17 233h1v1h-1zM19 205h1v1h-1zM19 213h1v1h-1z"/><path fill="#cee5f0" d="M0 40h1v3h-1zM0 70h1v1h-1zM0 170h1v1h-1zM1 35h1v1h-1zM3 15h1v1h-1zM3 24h1v1h-1zM3 41h1v1h-1zM3 43h1v2h-1zM3 49h1v1h-1zM4 51h1v1h-1zM5 4h1v1h-1zM5 7h1v1h-1zM5 40h1v1h-1zM5 46h1v1h-1zM5 56h1v1h-1zM6 136h1v1h-1zM6 186h1v1h-1zM7 13h1v1h-1zM7 24h1v3h-1zM7 48h1v1h-1zM7 51h1v1h-1zM7 87h1v1h-1zM7 163h1v1h-1zM8 70h1v1h-1zM8 101h1v1h-1zM8 142h1v2h-1zM8 198h1v1h-1zM8 209h1v2h-1zM8 222h1v1h-1zM8 233h1v1h-1zM9 21h1v1h-1zM9 47h1v1h-1zM9 86h1v1h-1zM9 88h1v1h-1zM9 92h1v1h-1zM9 101h1v1h-1zM9 112h1v1h-1zM9 141h1v1h-1zM9 149h1v1h-1zM9 155h1v1h-1zM9 177h1v1h-1zM9 215h1v1h-1zM9 217h1v1h-1zM9 219h1v1h-1zM9 222h1v1h-1zM9 232h1v1h-1zM10 17h1v3h-1zM10 93h1v1h-1zM10 112h1v2h-1zM10 115h1v1h-1zM10 141h1v2h-1zM10 218h1v1h-1zM10 222h1v1h-1zM11 3h1v1h-1zM11 16h1v1h-1zM11 70h1v1h-1zM11 101h1v1h-1zM11 112h1v1h-1zM11 144h1v1h-1zM11 150h1v1h-1zM11 215h1v1h-1zM12 67h1v1h-1zM12 88h1v1h-1zM12 101h1v1h-1zM12 117h1v1h-1zM12 130h1v1h-1zM12 160h1v1h-1zM12 162h1v1h-1zM12 171h1v1h-1zM12 185h1v1h-1zM12 194h1v2h-1zM12 210h1v1h-1zM12 218h1v1h-1zM12 234h1v1h-1zM13 16h1v1h-1zM13 41h1v1h-1zM13 71h1v1h-1zM13 88h1v1h-1zM13 92h1v1h-1zM13 107h1v1h-1zM13 109h1v1h-1zM13 112h1v1h-1zM13 116h1v1h-1zM13 127h1v1h-1zM13 142h1v1h-1zM13 144h1v1h-1zM13 201h1v1h-1zM13 214h1v2h-1zM13 218h1v1h-1zM13 238h1v1h-1zM14 2h1v1h-1zM14 16h1v1h-1zM14 92h1v1h-1zM14 112h1v1h-1zM14 116h1v1h-1zM14 126h1v2h-1zM14 129h1v1h-1zM14 137h1v1h-1zM14 143h1v1h-1zM14 153h1v1h-1zM14 167h1v1h-1zM14 184h1v1h-1zM14 198h1v1h-1zM14 231h1v1h-1zM14 237h1v1h-1zM15 2h1v1h-1zM15 73h1v1h-1zM15 92h1v1h-1zM15 101h1v1h-1zM15 108h1v2h-1zM15 116h1v2h-1zM15 129h1v1h-1zM15 136h1v1h-1zM15 142h1v1h-1zM15 144h1v1h-1zM15 197h1v1h-1zM15 214h1v1h-1zM15 219h1v1h-1zM15 238h1v1h-1zM16 126h1v1h-1zM16 220h1v1h-1zM16 223h1v2h-1zM16 235h1v1h-1zM17 84h1v2h-1zM17 168h1v1h-1zM18 78h1v1h-1zM18 113h1v1h-1zM18 126h1v1h-1zM18 219h1v1h-1zM18 222h1v2h-1zM18 237h1v1h-1zM19 70h1v1h-1zM19 155h1v1h-1zM19 211h1v1h-1zM19 228h1v1h-1zM19 235h1v1h-1zM19 239h1v1h-1zM20 202h1v1h-1zM20 204h1v1h-1zM21 138h1v1h-1zM21 220h1v1h-1zM21 233h1v1h-1zM22 204h1v2h-1zM23 134h1v1h-1zM23 210h1v1h-1zM23 218h1v1h-1zM23 220h1v1h-1z"/><path fill="#22a3d7" d="M0 48h1v1h-1zM0 90h1v1h-1zM0 198h1v1h-1zM0 224h1v1h-1zM0 233h1v1h-1zM1 50h1v1h-1zM1 112h1v1h-1zM1 117h1v1h-1zM1 119h1v2h-1zM1 159h1v1h-1zM1 195h1v1h-1zM1 197h1v1h-1zM2 90h1v1h-1zM2 117h1v1h-1zM2 119h1v1h-1zM2 144h1v1h-1zM2 159h1v1h-1zM2 173h1v1h-1zM2 194h1v1h-1zM2 196h1v1h-1zM2 203h1v1h-1zM2 206h1v1h-1zM2 223h1v1h-1zM2 226h1v1h-1zM2 237h1v1h-1zM3 68h1v1h-1zM3 76h1v1h-1zM3 93h1v1h-1zM3 144h1v1h-1zM3 197h1v1h-1zM3 203h1v2h-1zM3 206h1v1h-1zM3 213h1v1h-1zM3 220h1v1h-1zM3 226h1v2h-1zM3 229h1v1h-1zM4 17h1v1h-1zM4 43h1v1h-1zM4 93h1v1h-1zM4 112h1v1h-1zM4 143h1v1h-1zM4 159h1v1h-1zM4 203h1v1h-1zM4 206h1v1h-1zM4 213h1v1h-1zM4 226h1v2h-1zM4 237h1v1h-1zM5 144h1v1h-1zM5 161h1v1h-1zM5 171h1v1h-1zM5 175h1v1h-1zM5 194h1v1h-1zM5 197h1v1h-1zM5 229h1v1h-1zM5 234h1v1h-1zM5 238h1v1h-1zM6 18h1v2h-1zM6 67h1v1h-1zM6 143h1v1h-1zM6 175h1v1h-1zM6 194h1v1h-1zM6 204h1v1h-1zM6 208h1v1h-1zM6 215h1v1h-1zM6 226h1v1h-1zM6 234h1v1h-1zM6 236h1v1h-1zM6 238h1v1h-1zM7 72h1v1h-1zM7 90h1v2h-1zM7 144h1v1h-1zM7 171h1v1h-1zM7 198h1v1h-1zM7 215h1v1h-1zM7 235h1v1h-1zM8 33h1v1h-1zM8 38h1v1h-1zM8 40h1v1h-1zM9 32h1v1h-1zM9 40h1v1h-1zM9 45h1v1h-1zM10 40h1v1h-1zM10 45h1v1h-1zM11 42h1v1h-1zM11 48h1v1h-1zM12 24h1v1h-1zM12 38h1v1h-1zM14 45h1v1h-1zM15 42h1v1h-1zM16 11h1v1h-1zM16 15h1v2h-1zM16 27h1v1h-1zM16 30h1v1h-1zM16 53h1v1h-1zM16 97h1v1h-1zM16 110h1v1h-1zM16 171h1v1h-1zM16 174h1v1h-1zM17 42h1v1h-1zM17 148h1v1h-1zM17 179h1v1h-1zM17 196h1v1h-1zM17 217h1v1h-1zM18 11h1v1h-1zM18 15h1v2h-1zM18 92h1v1h-1zM18 118h1v1h-1zM18 177h1v1h-1zM18 180h1v1h-1zM18 194h1v2h-1zM19 8h1v1h-1zM19 17h1v1h-1zM19 29h1v1h-1zM19 179h1v2h-1zM19 194h1v1h-1zM20 11h1v1h-1zM20 13h1v1h-1zM20 27h1v1h-1zM20 42h1v1h-1zM20 139h1v1h-1zM20 174h1v2h-1zM21 15h1v1h-1zM21 42h1v1h-1zM21 96h1v1h-1zM21 105h1v1h-1zM22 12h1v1h-1zM22 42h1v1h-1zM22 169h1v1h-1zM23 11h1v2h-1zM23 41h1v1h-1zM23 92h1v1h-1zM23 96h1v2h-1zM23 136h1v2h-1zM23 166h1v1h-1zM23 169h1v1h-1zM23 178h1v1h-1zM23 192h1v1h-1z"/><path fill="#0f8cca" d="M0 49h1v1h-1zM1 73h1v1h-1zM2 195h1v1h-1zM2 205h1v1h-1zM2 224h1v1h-1zM3 158h1v1h-1zM3 205h1v1h-1zM3 215h1v1h-1zM3 224h1v1h-1zM4 158h1v1h-1zM4 231h1v1h-1zM5 158h1v1h-1zM5 231h1v1h-1zM6 73h1v1h-1zM6 212h1v1h-1zM6 230h1v1h-1zM19 9h1v1h-1zM21 9h1v1h-1z"/><path fill="#1091ce" d="M0 52h1v1h-1zM1 208h1v1h-1zM1 215h1v2h-1zM2 158h1v1h-1zM2 199h1v1h-1zM2 214h1v1h-1zM2 216h1v1h-1zM2 235h1v1h-1zM4 73h1v1h-1zM4 205h1v1h-1zM5 199h1v1h-1zM6 199h1v1h-1zM7 73h1v1h-1zM7 195h1v1h-1zM7 232h1v1h-1zM16 10h1v1h-1zM17 9h1v1h-1zM19 10h1v1h-1zM19 12h1v1h-1zM20 9h1v1h-1zM21 12h1v1h-1zM23 9h1v1h-1z"/><path fill="#4ab7e0" d="M0 64h1v2h-1zM0 115h1v1h-1zM0 121h1v1h-1zM0 128h1v1h-1zM0 145h1v1h-1zM0 160h1v1h-1zM0 162h1v1h-1zM0 178h1v2h-1zM0 204h1v1h-1zM0 206h1v1h-1zM0 208h1v1h-1zM0 211h1v1h-1zM0 214h1v1h-1zM0 216h1v2h-1zM0 219h1v1h-1zM0 225h1v1h-1zM0 238h1v1h-1zM1 69h1v1h-1zM1 94h1v1h-1zM1 96h1v1h-1zM1 116h1v1h-1zM1 121h1v1h-1zM1 128h1v1h-1zM1 140h1v1h-1zM1 154h1v2h-1zM1 162h1v1h-1zM1 169h1v1h-1zM1 178h1v2h-1zM1 182h1v1h-1zM1 196h1v1h-1zM1 221h1v2h-1zM2 43h1v1h-1zM2 68h1v1h-1zM2 74h1v2h-1zM2 87h1v1h-1zM2 121h1v1h-1zM2 129h1v1h-1zM2 131h1v1h-1zM2 138h1v1h-1zM2 141h1v1h-1zM2 149h1v1h-1zM2 155h1v1h-1zM2 157h1v1h-1zM2 161h1v1h-1zM2 174h1v1h-1zM2 176h1v1h-1zM3 59h1v1h-1zM3 61h1v1h-1zM3 63h1v1h-1zM3 65h1v1h-1zM3 94h1v1h-1zM3 105h1v1h-1zM3 132h1v1h-1zM3 141h1v1h-1zM3 145h1v1h-1zM3 151h1v1h-1zM3 154h1v3h-1zM3 172h1v1h-1zM3 181h1v1h-1zM3 185h1v1h-1zM3 187h1v1h-1zM3 190h1v1h-1zM3 200h1v2h-1zM3 207h1v1h-1zM3 222h1v1h-1zM4 4h1v1h-1zM4 16h1v1h-1zM4 38h1v1h-1zM4 59h1v1h-1zM4 69h1v1h-1zM4 111h1v1h-1zM4 132h1v1h-1zM4 138h1v1h-1zM4 140h1v1h-1zM4 151h1v1h-1zM4 174h1v1h-1zM4 185h1v1h-1zM4 187h1v1h-1zM4 189h1v2h-1zM4 196h1v1h-1zM4 201h1v1h-1zM4 207h1v1h-1zM4 209h1v2h-1zM4 218h1v1h-1zM4 239h1v1h-1zM5 67h1v1h-1zM5 74h1v2h-1zM5 86h1v1h-1zM5 91h1v1h-1zM5 105h1v1h-1zM5 117h1v1h-1zM5 148h1v1h-1zM5 151h1v1h-1zM5 154h1v1h-1zM5 160h1v1h-1zM5 166h1v1h-1zM5 168h1v1h-1zM5 174h1v1h-1zM5 176h1v1h-1zM5 178h1v1h-1zM5 182h1v1h-1zM5 192h1v1h-1zM5 207h1v1h-1zM5 209h1v1h-1zM5 228h1v1h-1zM6 3h1v1h-1zM6 79h1v1h-1zM6 96h1v1h-1zM6 108h1v1h-1zM6 114h1v1h-1zM6 138h1v1h-1zM6 140h1v2h-1zM6 151h1v1h-1zM6 154h1v2h-1zM6 161h1v1h-1zM6 167h1v2h-1zM6 190h1v1h-1zM6 201h1v1h-1zM6 213h1v1h-1zM6 218h1v1h-1zM6 239h1v1h-1zM7 61h1v1h-1zM7 63h1v1h-1zM7 115h1v1h-1zM7 137h1v1h-1zM7 148h1v1h-1zM7 151h1v1h-1zM7 159h1v1h-1zM7 189h1v1h-1zM7 213h1v2h-1zM7 217h1v1h-1zM7 226h1v1h-1zM7 237h1v2h-1zM8 14h1v1h-1zM8 26h1v1h-1zM8 43h1v2h-1zM8 65h1v1h-1zM8 118h1v1h-1zM9 6h1v1h-1zM9 31h1v1h-1zM9 41h1v1h-1zM9 43h1v2h-1zM9 89h1v1h-1zM10 7h1v1h-1zM10 25h1v1h-1zM10 39h1v1h-1zM10 41h1v1h-1zM10 43h1v1h-1zM10 49h1v1h-1zM10 89h1v1h-1zM11 8h1v1h-1zM11 21h1v1h-1zM11 36h1v1h-1zM11 39h1v1h-1zM12 6h1v1h-1zM12 36h1v1h-1zM12 96h1v1h-1zM13 7h1v1h-1zM13 21h1v2h-1zM13 35h1v1h-1zM13 39h1v1h-1zM13 45h1v1h-1zM13 48h1v1h-1zM14 6h1v2h-1zM14 21h1v2h-1zM14 37h1v1h-1zM14 44h1v1h-1zM14 49h1v1h-1zM14 146h1v1h-1zM15 8h1v1h-1zM15 22h1v1h-1zM15 31h1v1h-1zM15 35h1v2h-1zM15 49h1v1h-1zM15 59h1v1h-1zM15 152h1v1h-1zM16 0h1v1h-1zM16 2h1v1h-1zM16 20h1v1h-1zM16 24h1v2h-1zM16 34h1v1h-1zM16 48h1v2h-1zM16 56h1v1h-1zM16 62h1v1h-1zM16 76h1v1h-1zM16 95h1v1h-1zM16 100h1v1h-1zM16 107h1v2h-1zM16 127h1v1h-1zM16 150h1v1h-1zM16 155h1v1h-1zM16 163h1v1h-1zM16 167h1v2h-1zM16 183h1v1h-1zM16 186h1v2h-1zM16 192h1v2h-1zM16 200h1v1h-1zM17 0h1v1h-1zM17 6h1v1h-1zM17 8h1v1h-1zM17 20h1v2h-1zM17 44h1v1h-1zM17 56h1v1h-1zM17 58h1v1h-1zM17 62h1v1h-1zM17 71h1v1h-1zM17 73h1v1h-1zM17 95h1v1h-1zM17 147h1v1h-1zM17 151h1v1h-1zM17 153h1v1h-1zM17 157h1v3h-1zM17 174h1v2h-1zM17 181h1v1h-1zM17 187h1v2h-1zM17 225h1v1h-1zM18 3h1v1h-1zM18 6h1v1h-1zM18 18h1v3h-1zM18 22h1v1h-1zM18 28h1v1h-1zM18 46h1v1h-1zM18 49h1v1h-1zM18 52h1v1h-1zM18 59h1v1h-1zM18 66h1v1h-1zM18 91h1v1h-1zM18 95h1v1h-1zM18 109h1v1h-1zM18 111h1v1h-1zM18 115h1v1h-1zM18 132h1v1h-1zM18 147h1v1h-1zM18 152h1v1h-1zM18 154h1v1h-1zM18 165h1v1h-1zM18 167h1v1h-1zM18 187h1v1h-1zM18 190h1v1h-1zM18 192h1v1h-1zM18 198h1v1h-1zM18 211h1v1h-1zM19 0h1v1h-1zM19 5h1v2h-1zM19 19h1v1h-1zM19 23h1v1h-1zM19 34h1v1h-1zM19 96h1v1h-1zM19 105h1v1h-1zM19 167h1v1h-1zM19 186h1v1h-1zM19 188h1v1h-1zM19 193h1v1h-1zM19 199h1v2h-1zM19 217h1v2h-1zM20 6h1v1h-1zM20 8h1v1h-1zM20 16h1v3h-1zM20 23h1v1h-1zM20 43h1v1h-1zM20 56h1v1h-1zM20 71h1v1h-1zM20 95h1v1h-1zM20 129h1v2h-1zM20 150h1v1h-1zM20 176h1v1h-1zM20 195h1v1h-1zM20 199h1v2h-1zM21 2h1v1h-1zM21 6h1v1h-1zM21 31h1v1h-1zM21 33h1v1h-1zM21 46h1v1h-1zM21 89h1v1h-1zM21 98h1v1h-1zM21 115h1v3h-1zM21 136h1v1h-1zM21 151h1v2h-1zM21 155h1v1h-1zM21 161h1v1h-1zM21 174h1v1h-1zM21 193h1v1h-1zM21 198h1v2h-1zM22 7h1v2h-1zM22 14h1v1h-1zM22 18h1v1h-1zM22 21h1v1h-1zM22 28h1v1h-1zM22 33h1v1h-1zM22 43h1v1h-1zM22 53h1v1h-1zM22 62h1v1h-1zM22 109h1v2h-1zM22 118h1v1h-1zM22 128h1v1h-1zM22 149h1v1h-1zM22 155h1v1h-1zM22 157h1v1h-1zM22 161h1v1h-1zM22 167h1v2h-1zM22 170h1v1h-1zM22 181h1v1h-1zM22 189h1v2h-1zM22 199h1v1h-1zM23 0h1v3h-1zM23 35h1v1h-1zM23 99h1v2h-1zM23 102h1v1h-1zM23 104h1v1h-1zM23 112h1v1h-1zM23 119h1v1h-1zM23 124h1v2h-1zM23 127h1v1h-1zM23 130h1v1h-1zM23 163h1v1h-1zM23 171h1v1h-1zM23 173h1v1h-1zM23 188h1v1h-1zM23 198h1v2h-1z"/><path fill="#71c6e7" d="M0 72h1v1h-1zM0 74h1v1h-1zM0 80h1v1h-1zM0 92h1v1h-1zM0 95h1v1h-1zM0 99h1v2h-1zM0 111h1v1h-1zM0 118h1v1h-1zM0 122h1v1h-1zM0 124h1v2h-1zM0 127h1v1h-1zM0 130h1v1h-1zM0 132h1v2h-1zM0 140h1v1h-1zM0 163h1v1h-1zM0 181h1v1h-1zM0 188h1v1h-1zM0 193h1v1h-1zM0 239h1v1h-1zM1 53h1v1h-1zM1 71h1v1h-1zM1 105h1v1h-1zM1 122h1v1h-1zM1 124h1v2h-1zM1 127h1v1h-1zM1 132h1v1h-1zM1 135h1v1h-1zM1 139h1v1h-1zM1 141h1v1h-1zM1 150h1v1h-1zM1 160h1v1h-1zM1 163h1v1h-1zM1 177h1v1h-1zM1 180h1v1h-1zM1 189h1v2h-1zM1 227h1v1h-1zM2 18h1v1h-1zM2 37h1v1h-1zM2 59h1v1h-1zM2 69h1v1h-1zM2 77h1v1h-1zM2 84h1v2h-1zM2 89h1v1h-1zM2 95h1v1h-1zM2 122h1v1h-1zM2 126h1v1h-1zM2 128h1v1h-1zM2 130h1v1h-1zM2 132h1v1h-1zM2 153h1v1h-1zM2 184h1v1h-1zM3 3h1v1h-1zM3 26h1v1h-1zM3 58h1v1h-1zM3 79h1v2h-1zM3 87h1v1h-1zM3 92h1v1h-1zM3 100h1v2h-1zM3 103h1v1h-1zM3 116h1v1h-1zM3 118h1v1h-1zM3 122h1v1h-1zM3 124h1v1h-1zM3 127h1v1h-1zM3 135h1v1h-1zM3 147h1v1h-1zM3 163h1v2h-1zM3 177h1v1h-1zM3 191h1v1h-1zM3 193h1v1h-1zM4 1h1v1h-1zM4 10h1v1h-1zM4 12h1v1h-1zM4 40h1v1h-1zM4 60h1v2h-1zM4 71h1v1h-1zM4 85h1v1h-1zM4 89h1v1h-1zM4 104h1v1h-1zM4 118h1v1h-1zM4 170h1v1h-1zM4 172h1v1h-1zM4 178h1v2h-1zM4 188h1v1h-1zM4 191h1v3h-1zM4 202h1v1h-1zM4 222h1v1h-1zM5 12h1v2h-1zM5 52h1v1h-1zM5 61h1v1h-1zM5 99h1v2h-1zM5 106h1v1h-1zM5 121h1v1h-1zM5 125h1v1h-1zM5 131h1v1h-1zM5 136h1v1h-1zM5 149h1v1h-1zM5 181h1v1h-1zM6 62h1v1h-1zM6 83h1v1h-1zM6 100h1v1h-1zM6 106h1v2h-1zM6 109h1v1h-1zM6 125h1v2h-1zM6 131h1v1h-1zM6 139h1v1h-1zM6 149h1v2h-1zM6 172h1v1h-1zM6 179h1v2h-1zM6 185h1v1h-1zM6 188h1v1h-1zM7 12h1v1h-1zM7 17h1v1h-1zM7 19h1v1h-1zM7 22h1v1h-1zM7 77h1v1h-1zM7 83h1v1h-1zM7 85h1v1h-1zM7 111h1v1h-1zM7 128h1v2h-1zM7 140h1v2h-1zM7 149h1v2h-1zM7 172h1v1h-1zM7 174h1v1h-1zM7 191h1v1h-1zM7 202h1v1h-1zM7 218h1v1h-1zM7 221h1v1h-1zM7 228h1v1h-1zM8 0h1v1h-1zM8 9h1v1h-1zM8 18h1v1h-1zM8 20h1v1h-1zM8 23h1v1h-1zM8 27h1v1h-1zM8 29h1v1h-1zM8 60h1v1h-1zM8 63h1v1h-1zM8 68h1v1h-1zM8 74h1v1h-1zM8 80h1v1h-1zM8 111h1v1h-1zM8 119h1v1h-1zM8 133h1v1h-1zM8 139h1v1h-1zM8 213h1v1h-1zM9 11h1v1h-1zM9 14h1v1h-1zM9 26h1v1h-1zM9 80h1v1h-1zM9 107h1v1h-1zM9 139h1v1h-1zM9 216h1v1h-1zM10 10h1v1h-1zM10 28h1v1h-1zM10 30h1v1h-1zM10 96h1v1h-1zM10 102h1v1h-1zM10 118h1v1h-1zM10 133h1v2h-1zM10 139h1v1h-1zM10 207h1v1h-1zM11 41h1v1h-1zM11 51h1v1h-1zM11 63h1v1h-1zM11 81h1v1h-1zM11 84h1v1h-1zM11 89h1v1h-1zM11 99h1v1h-1zM11 103h1v1h-1zM11 107h1v1h-1zM11 119h1v1h-1zM11 131h1v1h-1zM12 11h1v1h-1zM12 14h1v1h-1zM12 20h1v1h-1zM12 34h1v1h-1zM12 66h1v1h-1zM12 75h1v1h-1zM12 85h1v1h-1zM12 102h1v2h-1zM12 118h1v1h-1zM12 139h1v1h-1zM12 213h1v1h-1zM13 0h1v1h-1zM13 27h1v1h-1zM13 30h1v1h-1zM13 43h1v2h-1zM13 49h1v1h-1zM13 79h1v1h-1zM13 99h1v1h-1zM13 103h1v1h-1zM13 111h1v1h-1zM13 146h1v1h-1zM14 30h1v1h-1zM14 41h1v1h-1zM14 47h1v1h-1zM14 74h1v1h-1zM14 81h1v1h-1zM14 99h1v1h-1zM14 102h1v1h-1zM14 110h1v1h-1zM14 119h1v1h-1zM15 10h1v1h-1zM15 26h1v1h-1zM15 46h1v1h-1zM15 51h1v1h-1zM15 63h1v1h-1zM15 99h1v1h-1zM15 110h1v2h-1zM15 146h1v1h-1zM16 5h1v1h-1zM16 46h1v1h-1zM16 61h1v1h-1zM16 80h1v1h-1zM16 83h1v1h-1zM16 88h1v1h-1zM16 113h1v1h-1zM16 115h1v1h-1zM16 124h1v1h-1zM16 136h1v1h-1zM16 145h1v2h-1zM16 157h1v1h-1zM16 162h1v1h-1zM17 26h1v1h-1zM17 37h1v1h-1zM17 40h1v1h-1zM17 48h1v3h-1zM17 77h1v1h-1zM17 91h1v1h-1zM17 109h1v2h-1zM17 120h1v2h-1zM17 133h1v1h-1zM17 137h1v1h-1zM17 140h1v1h-1zM17 216h1v1h-1zM17 226h1v1h-1zM18 2h1v1h-1zM18 24h1v1h-1zM18 45h1v1h-1zM18 61h1v1h-1zM18 64h1v1h-1zM18 70h1v1h-1zM18 73h1v1h-1zM18 86h1v1h-1zM18 88h1v1h-1zM18 93h1v1h-1zM18 160h1v3h-1zM18 185h1v1h-1zM18 189h1v1h-1zM18 206h1v1h-1zM18 210h1v1h-1zM18 214h1v1h-1zM19 24h1v1h-1zM19 37h1v1h-1zM19 39h1v1h-1zM19 50h1v1h-1zM19 52h1v1h-1zM19 64h1v1h-1zM19 83h1v1h-1zM19 88h1v1h-1zM19 109h1v1h-1zM19 130h1v1h-1zM19 136h1v1h-1zM19 147h1v1h-1zM19 149h1v1h-1zM19 183h1v2h-1zM19 231h1v1h-1zM20 33h1v1h-1zM20 38h1v2h-1zM20 47h1v1h-1zM20 49h1v1h-1zM20 54h1v1h-1zM20 58h1v1h-1zM20 61h1v2h-1zM20 69h1v1h-1zM20 73h1v1h-1zM20 93h1v1h-1zM20 116h1v3h-1zM20 181h1v1h-1zM20 186h1v1h-1zM20 188h1v2h-1zM20 203h1v1h-1zM20 217h1v1h-1zM20 239h1v1h-1zM21 24h1v2h-1zM21 34h1v1h-1zM21 37h1v1h-1zM21 45h1v1h-1zM21 47h1v1h-1zM21 49h1v1h-1zM21 69h1v1h-1zM21 84h1v1h-1zM21 87h1v1h-1zM21 93h1v1h-1zM21 114h1v1h-1zM21 122h1v1h-1zM21 124h1v1h-1zM21 141h1v1h-1zM21 212h1v1h-1zM21 215h1v1h-1zM21 217h1v1h-1zM22 2h1v1h-1zM22 5h1v2h-1zM22 19h1v1h-1zM22 46h1v2h-1zM22 49h1v1h-1zM22 61h1v1h-1zM22 71h1v1h-1zM22 74h1v1h-1zM22 107h1v2h-1zM22 120h1v1h-1zM22 125h1v1h-1zM22 137h1v1h-1zM22 140h1v1h-1zM22 183h1v1h-1zM22 187h1v1h-1zM22 201h1v1h-1zM22 216h1v1h-1zM23 20h1v1h-1zM23 40h1v1h-1zM23 46h1v2h-1zM23 49h1v1h-1zM23 71h1v1h-1zM23 91h1v1h-1zM23 94h1v1h-1zM23 107h1v1h-1zM23 109h1v1h-1zM23 117h1v1h-1zM23 120h1v2h-1zM23 184h1v1h-1zM23 189h1v1h-1zM23 212h1v1h-1z"/><path fill="#26a7d9" d="M0 73h1v1h-1zM0 86h1v1h-1zM0 91h1v1h-1zM0 93h1v2h-1zM0 120h1v1h-1zM0 143h1v2h-1zM0 161h1v1h-1zM0 168h1v1h-1zM0 194h1v1h-1zM0 197h1v1h-1zM0 205h1v1h-1zM0 234h1v2h-1zM1 49h1v1h-1zM1 72h1v1h-1zM1 74h1v1h-1zM1 93h1v1h-1zM1 115h1v1h-1zM1 168h1v1h-1zM1 173h1v1h-1zM1 175h1v1h-1zM1 220h1v1h-1zM1 223h1v1h-1zM1 237h1v1h-1zM2 112h1v1h-1zM2 120h1v1h-1zM2 137h1v1h-1zM2 151h1v1h-1zM2 166h1v1h-1zM2 168h1v1h-1zM2 207h1v1h-1zM2 210h1v1h-1zM3 67h1v1h-1zM3 72h1v1h-1zM3 75h1v1h-1zM3 91h1v1h-1zM3 112h1v1h-1zM3 119h1v2h-1zM3 161h1v2h-1zM3 167h1v2h-1zM3 176h1v1h-1zM4 68h1v1h-1zM4 72h1v1h-1zM4 75h1v1h-1zM4 86h1v1h-1zM4 90h1v2h-1zM4 115h1v1h-1zM4 117h1v1h-1zM4 137h1v1h-1zM4 175h1v1h-1zM4 194h1v1h-1zM4 197h1v1h-1zM4 214h1v1h-1zM4 217h1v1h-1zM4 220h1v1h-1zM4 223h1v1h-1zM4 229h1v1h-1zM4 238h1v1h-1zM5 64h1v1h-1zM5 68h1v1h-1zM5 76h1v1h-1zM5 120h1v1h-1zM5 143h1v1h-1zM5 173h1v1h-1zM5 196h1v1h-1zM5 204h1v1h-1zM5 206h1v1h-1zM5 216h1v1h-1zM5 220h1v1h-1zM5 225h1v1h-1zM5 227h1v1h-1zM6 4h1v1h-1zM6 90h1v1h-1zM6 93h1v1h-1zM6 112h1v1h-1zM6 119h1v2h-1zM6 145h1v1h-1zM6 203h1v1h-1zM6 206h1v1h-1zM6 216h1v2h-1zM6 220h1v1h-1zM6 227h1v1h-1zM6 229h1v1h-1zM6 237h1v1h-1zM7 68h1v1h-1zM7 74h1v1h-1zM7 76h1v1h-1zM7 86h1v1h-1zM7 93h1v1h-1zM7 112h1v1h-1zM7 120h1v1h-1zM7 143h1v1h-1zM7 206h1v1h-1zM8 39h1v1h-1zM8 45h1v1h-1zM8 48h1v1h-1zM9 8h1v1h-1zM9 38h1v1h-1zM9 59h1v1h-1zM10 36h1v1h-1zM10 48h1v1h-1zM11 32h1v1h-1zM11 45h1v1h-1zM11 49h1v1h-1zM12 8h1v1h-1zM12 25h1v1h-1zM12 32h1v1h-1zM12 45h1v1h-1zM13 24h1v1h-1zM13 37h1v2h-1zM14 25h1v1h-1zM14 33h1v1h-1zM14 48h1v1h-1zM15 38h1v1h-1zM15 151h1v1h-1zM16 13h1v1h-1zM16 21h1v2h-1zM16 32h1v1h-1zM16 55h1v1h-1zM16 96h1v1h-1zM16 105h1v1h-1zM16 148h1v1h-1zM16 151h1v1h-1zM16 154h1v1h-1zM16 170h1v1h-1zM16 178h1v1h-1zM16 190h1v2h-1zM16 194h1v1h-1zM17 11h1v1h-1zM17 13h1v1h-1zM17 16h1v1h-1zM17 41h1v1h-1zM17 53h1v1h-1zM17 55h1v1h-1zM17 149h1v1h-1zM17 178h1v1h-1zM17 180h1v1h-1zM17 194h1v2h-1zM18 13h1v1h-1zM18 43h1v1h-1zM18 56h1v1h-1zM18 117h1v1h-1zM18 148h1v1h-1zM18 166h1v1h-1zM18 178h1v1h-1zM18 196h1v1h-1zM19 3h1v1h-1zM19 7h1v1h-1zM19 16h1v1h-1zM19 28h1v1h-1zM19 41h1v1h-1zM19 169h1v1h-1zM19 178h1v1h-1zM19 191h1v1h-1zM19 196h1v1h-1zM20 3h1v1h-1zM20 15h1v1h-1zM20 26h1v1h-1zM20 29h1v2h-1zM20 53h1v1h-1zM20 92h1v1h-1zM20 136h1v1h-1zM20 140h1v1h-1zM20 148h1v1h-1zM20 154h1v1h-1zM20 166h1v1h-1zM20 169h1v1h-1zM20 178h1v1h-1zM20 212h1v1h-1zM20 218h1v1h-1zM21 16h1v2h-1zM21 29h1v1h-1zM21 43h1v1h-1zM21 106h1v1h-1zM21 177h1v1h-1zM21 181h1v1h-1zM21 191h1v1h-1zM21 194h1v1h-1zM21 196h1v1h-1zM22 11h1v1h-1zM22 15h1v1h-1zM22 30h1v1h-1zM22 166h1v1h-1zM22 174h1v2h-1zM22 177h1v4h-1zM22 196h1v1h-1zM22 198h1v1h-1zM23 7h1v2h-1zM23 13h1v1h-1zM23 15h1v1h-1zM23 27h1v1h-1zM23 42h1v1h-1zM23 139h1v2h-1zM23 174h1v1h-1zM23 179h1v2h-1zM23 191h1v1h-1zM23 193h1v1h-1z"/><path fill="#0e86c7" d="M0 158h1v1h-1zM0 232h1v1h-1zM1 205h1v1h-1zM1 231h1v1h-1zM2 215h1v1h-1zM3 212h1v1h-1zM3 231h1v1h-1zM4 212h1v1h-1zM4 230h1v1h-1zM5 230h1v1h-1zM6 231h1v1h-1zM16 9h1v1h-1zM21 10h1v1h-1z"/><path fill="#1d9ed5" d="M0 171h1v1h-1zM0 173h1v1h-1zM0 199h1v1h-1zM0 212h1v1h-1zM1 143h1v2h-1zM1 198h1v1h-1zM1 211h1v1h-1zM1 217h1v1h-1zM1 229h1v1h-1zM2 72h1v1h-1zM2 86h1v1h-1zM2 91h1v1h-1zM2 93h1v1h-1zM2 143h1v1h-1zM2 197h1v1h-1zM2 204h1v1h-1zM2 217h1v1h-1zM2 220h1v1h-1zM2 225h1v1h-1zM2 227h1v1h-1zM3 143h1v1h-1zM3 159h1v1h-1zM3 173h1v1h-1zM3 195h1v1h-1zM3 198h1v1h-1zM3 208h1v1h-1zM3 211h1v1h-1zM3 225h1v1h-1zM3 234h1v1h-1zM3 237h1v2h-1zM4 76h1v1h-1zM4 120h1v1h-1zM4 198h1v1h-1zM4 204h1v1h-1zM4 208h1v1h-1zM4 216h1v1h-1zM4 219h1v1h-1zM4 233h1v2h-1zM5 198h1v1h-1zM5 208h1v1h-1zM5 215h1v1h-1zM5 219h1v1h-1zM5 226h1v1h-1zM5 233h1v1h-1zM5 236h1v1h-1zM6 64h1v1h-1zM6 75h1v2h-1zM6 144h1v1h-1zM6 173h1v1h-1zM6 198h1v1h-1zM7 194h1v1h-1zM7 197h1v1h-1zM7 205h1v1h-1zM7 212h1v1h-1zM7 231h1v1h-1zM8 8h1v1h-1zM8 24h1v1h-1zM8 32h1v1h-1zM8 207h1v1h-1zM10 37h1v1h-1zM12 42h1v1h-1zM13 25h1v1h-1zM14 32h1v1h-1zM14 42h1v1h-1zM15 45h1v1h-1zM16 12h1v1h-1zM16 169h1v1h-1zM16 175h1v1h-1zM17 15h1v1h-1zM18 41h1v2h-1zM18 53h1v1h-1zM18 55h1v1h-1zM18 174h1v2h-1zM18 179h1v1h-1zM19 11h1v1h-1zM19 13h1v1h-1zM19 30h1v1h-1zM19 166h1v1h-1zM19 174h1v2h-1zM20 12h1v1h-1zM20 41h1v1h-1zM20 137h1v1h-1zM20 214h1v1h-1zM21 41h1v1h-1zM21 92h1v1h-1zM21 110h1v1h-1zM21 178h1v3h-1zM22 41h1v1h-1z"/><path fill="#1495d0" d="M0 230h1v1h-1zM1 158h1v1h-1zM1 199h1v1h-1zM1 206h1v1h-1zM1 214h1v1h-1zM1 224h1v1h-1zM1 233h1v3h-1zM2 198h1v1h-1zM2 213h1v1h-1zM2 219h1v1h-1zM2 233h1v1h-1zM2 236h1v1h-1zM3 4h1v1h-1zM3 73h1v1h-1zM3 171h1v1h-1zM3 235h1v2h-1zM4 199h1v1h-1zM4 235h1v1h-1zM5 212h1v1h-1zM5 224h1v1h-1zM5 235h1v1h-1zM6 17h1v1h-1zM6 158h1v1h-1zM6 195h1v1h-1zM6 205h1v1h-1zM6 219h1v1h-1zM9 42h1v1h-1zM10 32h1v2h-1zM17 10h1v1h-1zM18 9h1v2h-1zM21 97h1v1h-1zM23 10h1v1h-1z"/><path fill="#f18466" d="M1 7h1v1h-1zM1 23h1v1h-1zM2 27h1v1h-1zM17 130h1v1h-1zM21 54h1v2h-1zM23 153h1v1h-1z"/><path fill="#f49274" d="M1 8h1v1h-1zM6 50h1v1h-1zM17 129h1v1h-1zM18 134h1v1h-1zM18 136h1v1h-1zM20 97h1v1h-1zM21 56h1v3h-1zM22 82h1v1h-1zM22 94h1v1h-1zM23 152h1v1h-1zM23 156h1v1h-1z"/><path fill="#ed6e54" d="M1 9h1v1h-1zM21 59h1v1h-1z"/><path fill="#f8b297" d="M1 11h1v1h-1zM23 76h1v1h-1zM23 80h1v1h-1zM23 82h1v1h-1z"/><path fill="#f6a082" d="M1 12h1v1h-1zM6 43h1v1h-1zM21 77h1v1h-1zM21 81h1v1h-1zM22 75h1v1h-1zM22 81h1v1h-1zM22 83h1v1h-1zM22 85h1v1h-1zM23 84h1v1h-1z"/><path fill="#f7a689" d="M1 13h1v1h-1zM18 133h1v1h-1zM22 76h1v1h-1zM22 80h1v1h-1zM23 75h1v1h-1zM23 78h1v1h-1z"/><path fill="#eee1db" d="M1 15h1v1h-1zM1 24h1v1h-1zM2 80h1v1h-1zM3 139h1v1h-1zM4 32h1v1h-1zM4 126h1v1h-1zM4 153h1v1h-1zM5 27h1v1h-1zM6 55h1v2h-1zM6 78h1v1h-1zM7 36h1v1h-1zM7 43h1v1h-1zM7 47h1v1h-1zM8 154h1v1h-1zM8 160h1v1h-1zM8 163h1v1h-1zM8 168h1v1h-1zM8 182h1v1h-1zM8 230h1v1h-1zM9 167h1v1h-1zM9 171h1v1h-1zM9 185h1v1h-1zM9 193h1v1h-1zM9 210h1v1h-1zM9 218h1v1h-1zM9 228h1v1h-1zM10 164h1v1h-1zM10 177h1v1h-1zM11 164h1v1h-1zM11 168h1v1h-1zM11 178h1v1h-1zM11 187h1v1h-1zM11 190h1v1h-1zM11 198h1v1h-1zM11 209h1v1h-1zM11 231h1v1h-1zM11 236h1v1h-1zM12 144h1v1h-1zM12 175h1v1h-1zM13 58h1v1h-1zM13 172h1v1h-1zM13 178h1v2h-1zM13 183h1v1h-1zM13 187h1v1h-1zM13 204h1v1h-1zM13 209h1v1h-1zM14 188h1v1h-1zM14 205h1v1h-1zM15 86h1v2h-1zM15 114h1v2h-1zM15 124h1v1h-1zM15 165h1v1h-1zM15 172h1v1h-1zM15 183h1v3h-1zM15 191h1v1h-1zM15 226h1v1h-1zM15 229h1v1h-1zM16 204h1v1h-1zM16 232h1v1h-1zM17 235h1v1h-1z"/><path fill="#fac7b1" d="M1 25h1v1h-1zM1 27h1v1h-1zM1 29h1v1h-1zM4 25h1v1h-1zM5 8h1v1h-1zM6 9h1v1h-1zM6 27h1v1h-1zM6 36h1v1h-1zM8 112h1v1h-1zM9 166h1v1h-1zM10 143h1v2h-1zM13 177h1v1h-1zM14 135h1v2h-1zM15 181h1v1h-1zM15 210h1v1h-1z"/><path fill="#facbb7" d="M1 26h1v1h-1zM4 22h1v1h-1zM4 24h1v1h-1zM4 26h1v1h-1zM8 166h1v1h-1zM9 179h1v1h-1zM9 195h1v1h-1zM10 191h1v1h-1zM11 179h1v1h-1zM11 207h1v1h-1z"/><path fill="#fabea5" d="M1 28h1v1h-1zM15 175h1v1h-1zM15 179h1v1h-1zM16 207h1v3h-1z"/><path fill="#e3e6e7" d="M1 30h1v1h-1zM1 136h1v1h-1zM2 11h1v1h-1zM3 140h1v1h-1zM4 29h1v1h-1zM5 35h1v1h-1zM6 45h1v1h-1zM7 8h1v1h-1zM8 86h1v1h-1zM8 167h1v1h-1zM8 188h1v1h-1zM8 235h1v1h-1zM9 136h1v1h-1zM9 158h1v1h-1zM9 186h1v1h-1zM9 199h1v2h-1zM9 225h1v1h-1zM10 160h1v1h-1zM10 187h1v2h-1zM10 203h1v2h-1zM10 234h1v1h-1zM10 236h1v1h-1zM11 87h1v1h-1zM11 115h1v1h-1zM11 153h1v1h-1zM11 159h1v1h-1zM11 163h1v1h-1zM11 173h1v1h-1zM11 205h1v1h-1zM11 230h1v1h-1zM12 114h1v1h-1zM12 165h1v2h-1zM12 173h1v1h-1zM12 183h1v1h-1zM12 188h1v1h-1zM12 191h1v2h-1zM13 86h1v1h-1zM13 169h1v2h-1zM13 184h1v1h-1zM13 195h1v1h-1zM13 217h1v1h-1zM13 229h1v2h-1zM14 114h1v1h-1zM14 160h1v1h-1zM14 162h1v1h-1zM14 172h1v1h-1zM14 177h1v1h-1zM14 234h1v1h-1zM15 88h1v1h-1zM15 163h1v1h-1zM15 167h1v1h-1zM15 189h1v2h-1zM15 209h1v1h-1zM15 234h1v1h-1zM16 18h1v1h-1zM16 212h1v1h-1zM18 163h1v2h-1zM20 208h1v1h-1zM20 223h1v1h-1zM21 223h1v1h-1zM22 221h1v1h-1zM23 135h1v1h-1z"/><path fill="#0b7bc0" d="M1 212h1v1h-1zM2 230h1v1h-1zM3 230h1v1h-1zM5 232h1v1h-1z"/><path fill="#0a76bc" d="M1 230h1v1h-1zM3 232h1v1h-1zM4 232h1v1h-1z"/><path fill="#096db2" d="M1 232h1v1h-1z"/><path fill="#fad0bd" d="M2 7h1v1h-1zM7 27h1v1h-1zM9 164h1v1h-1zM9 229h1v1h-1zM10 175h1v1h-1zM11 170h1v1h-1zM11 175h1v1h-1zM11 206h1v1h-1zM12 238h1v1h-1zM13 181h1v1h-1zM15 177h1v1h-1zM15 182h1v1h-1zM16 210h1v1h-1z"/><path fill="#ef765a" d="M2 28h1v1h-1zM6 51h1v1h-1zM19 114h1v1h-1zM22 96h1v1h-1z"/><path fill="#0864a8" d="M2 212h1v1h-1zM2 232h1v1h-1z"/><path fill="#0c81c3" d="M2 231h1v1h-1zM6 232h1v1h-1z"/><path fill="#e54a3c" d="M4 21h1v1h-1zM5 17h1v1h-1zM6 37h1v2h-1zM16 69h1v1h-1zM16 71h1v1h-1zM22 89h1v2h-1zM22 92h1v1h-1zM23 151h1v1h-1z"/><path fill="#fac2ab" d="M4 23h1v1h-1zM5 9h1v1h-1zM5 34h1v1h-1zM6 32h1v1h-1zM8 113h1v1h-1zM8 115h1v1h-1zM12 158h1v2h-1zM12 237h1v1h-1zM13 176h1v1h-1zM15 176h1v1h-1zM16 215h1v1h-1z"/><path fill="#dc3130" d="M5 15h1v1h-1zM6 39h1v1h-1zM6 41h1v1h-1zM19 119h1v1h-1z"/><path fill="#e75140" d="M5 18h1v1h-1zM19 118h1v1h-1zM21 64h1v2h-1zM22 91h1v1h-1z"/><path fill="#d72a2f" d="M5 19h1v1h-1zM6 40h1v1h-1zM16 73h1v1h-1zM17 124h1v3h-1zM18 142h1v1h-1zM19 115h1v1h-1zM19 117h1v1h-1zM20 104h1v2h-1zM20 108h1v1h-1zM21 66h1v1h-1z"/><path fill="#f9b89e" d="M6 10h1v1h-1zM6 31h1v1h-1zM6 33h1v2h-1zM8 114h1v1h-1zM18 137h1v1h-1z"/><path fill="#f8ac90" d="M6 35h1v1h-1zM16 74h1v1h-1zM21 78h1v3h-1zM23 77h1v1h-1zM23 83h1v1h-1zM23 86h1v1h-1z"/><path fill="#f28b6d" d="M6 52h1v1h-1zM17 132h1v1h-1zM18 139h1v1h-1zM19 113h1v1h-1zM20 110h1v1h-1zM22 78h1v1h-1zM22 84h1v1h-1zM22 95h1v1h-1zM23 154h1v2h-1z"/><path fill="#d2232e" d="M16 68h1v1h-1z"/><path fill="#e03b34" d="M16 70h1v1h-1zM16 72h1v1h-1zM18 140h1v1h-1zM18 144h1v1h-1zM21 63h1v1h-1zM22 87h1v1h-1zM23 145h1v1h-1zM23 147h1v2h-1z"/><path fill="#e24238" d="M17 127h1v1h-1z"/><path fill="#de3430" d="M17 128h1v1h-1zM20 99h1v1h-1zM20 106h1v1h-1zM22 88h1v1h-1zM23 146h1v1h-1zM23 149h1v2h-1z"/><path fill="#f5997b" d="M17 131h1v1h-1zM18 135h1v1h-1zM18 138h1v1h-1zM19 54h1v2h-1zM20 96h1v1h-1zM20 98h1v1h-1zM20 109h1v1h-1zM20 111h1v1h-1zM22 77h1v1h-1zM22 79h1v1h-1zM23 79h1v1h-1zM23 81h1v1h-1zM23 85h1v1h-1z"/><path fill="#cf1f2d" d="M18 141h1v1h-1zM19 122h1v1h-1zM20 103h1v1h-1zM21 62h1v1h-1z"/><path fill="#e95844" d="M18 143h1v1h-1z"/><path fill="#cd1c2d" d="M19 116h1v1h-1z"/></g></g><path d="M65.0 186.5H45.8V187.3H65.0M65.0 185.7H42.4V186.9H45.8M65.0 188.9H51.7V189.7H65.0M65.0 188.1H50.9V189.3H51.7M42.4 186.3H38.3V188.7H50.9M65.0 190.5H52.9V191.3H65.0M52.9 190.9H49.0V192.1H65.0M49.0 191.5H48.2V192.9H65.0M38.3 187.5H25.6V192.2H48.2M65.0 194.4H45.7V195.2H65.0M65.0 196.0H51.2V196.8H65.0M65.0 198.4H52.5V199.2H65.0M52.5 198.8H48.4V200.0H65.0M65.0 197.6H46.5V199.4H48.4M51.2 196.4H45.7V198.5H46.5M45.7 194.8H44.9V197.5H45.7M65.0 200.8H48.2V201.6H65.0M48.2 201.2H47.4V202.4H65.0M47.4 201.8H46.2V203.2H65.0M46.2 202.5H45.4V204.0H65.0M65.0 204.8H46.9V205.6H65.0M45.4 203.2H44.6V205.2H46.9M44.9 196.2H41.4V204.2H44.6M65.0 193.6H37.6V200.2H41.4M37.6 196.9H36.8V206.4H65.0M65.0 207.2H51.1V208.0H65.0M65.0 209.6H53.5V210.3H65.0M65.0 208.8H48.8V210.0H53.5M65.0 211.9H49.4V212.7H65.0M65.0 211.1H48.6V212.3H49.4M48.8 209.4H47.8V211.7H48.6M51.1 207.6H47.0V210.5H47.8M47.0 209.1H40.2V213.5H65.0M65.0 217.5H49.6V218.3H65.0M65.0 216.7H48.8V217.9H49.6M65.0 219.1H49.4V219.9H65.0M48.8 217.3H45.7V219.5H49.4M65.0 215.9H44.9V218.4H45.7M65.0 215.1H44.1V217.2H44.9M65.0 214.3H43.3V216.1H44.1M43.3 215.2H42.5V220.7H65.0M65.0 223.1H52.6V223.9H65.0M65.0 222.3H47.5V223.5H52.6M47.5 222.9H46.7V224.7H65.0M46.7 223.8H45.9V225.5H65.0M65.0 221.5H44.1V224.6H45.9M44.1 223.0H43.3V226.3H65.0M43.3 224.7H42.5V227.0H65.0M42.5 218.0H41.7V225.9H42.5M65.0 227.8H47.3V228.6H65.0M41.7 221.9H39.5V228.2H47.3M40.2 211.3H30.0V225.1H39.5M65.0 232.6H51.4V233.4H65.0M51.4 233.0H50.6V234.2H65.0M65.0 231.8H49.8V233.6H50.6M65.0 231.0H47.8V232.7H49.8M65.0 230.2H47.0V231.9H47.8M65.0 229.4H37.0V231.1H47.0M65.0 238.2H52.4V239.0H65.0M65.0 237.4H50.7V238.6H52.4M65.0 236.6H45.3V238.0H50.7M65.0 235.8H41.1V237.3H45.3M65.0 241.4H53.8V242.2H65.0M65.0 243.0H49.9V243.7H65.0M49.9 243.4H49.1V244.5H65.0M53.8 241.8H48.3V243.9H49.1M65.0 240.6H45.7V242.9H48.3M65.0 239.8H44.9V241.7H45.7M65.0 245.3H52.9V246.1H65.0M65.0 246.9H51.0V247.7H65.0M65.0 248.5H53.2V249.3H65.0M51.0 247.3H40.8V248.9H53.2M52.9 245.7H40.0V248.1H40.8M44.9 240.7H39.2V246.9H40.0M41.1 236.5H37.8V243.8H39.2M65.0 235.0H37.0V240.2H37.8M37.0 230.2H36.2V237.6H37.0M36.2 233.9H35.4V250.1H65.0M35.4 242.0H26.5V250.9H65.0M30.0 218.2H24.5V246.5H26.5M36.8 201.6H22.3V232.3H24.5M25.6 189.8H16.7V217.0H22.3M65.0 253.3H46.7V254.1H65.0M65.0 252.5H45.9V253.7H46.7M45.9 253.1H45.1V254.9H65.0M65.0 251.7H44.3V254.0H45.1M65.0 255.7H49.4V256.5H65.0M65.0 258.9H51.1V259.7H65.0M51.1 259.3H50.3V260.4H65.0M50.3 259.9H49.5V261.2H65.0M49.5 260.5H48.7V262.0H65.0M65.0 262.8H49.9V263.6H65.0M49.9 263.2H48.7V264.4H65.0M48.7 261.3H47.9V263.8H48.7M65.0 258.1H47.1V262.6H47.9M47.1 260.3H46.3V265.2H65.0M65.0 266.0H49.7V266.8H65.0M49.7 266.4H48.9V267.6H65.0M48.9 267.0H42.6V268.4H65.0M46.3 262.8H41.8V267.7H42.6M41.8 265.2H41.0V269.2H65.0M65.0 257.3H40.2V267.2H41.0M49.4 256.1H39.4V262.2H40.2M39.4 259.2H38.6V270.0H65.0M65.0 274.0H50.3V274.8H65.0M65.0 275.6H47.0V276.4H65.0M50.3 274.4H42.5V276.0H47.0M65.0 280.3H51.6V281.1H65.0M51.6 280.7H49.0V281.9H65.0M65.0 279.5H46.7V281.3H49.0M65.0 278.7H45.9V280.4H46.7M65.0 277.9H45.1V279.6H45.9M65.0 277.1H44.3V278.8H45.1M65.0 283.5H49.8V284.3H65.0M49.8 283.9H49.0V285.1H65.0M65.0 282.7H48.2V284.5H49.0M44.3 278.0H42.5V283.6H48.2M42.5 275.2H41.7V280.8H42.5M65.0 273.2H40.9V278.0H41.7M65.0 272.4H40.1V275.6H40.9M65.0 271.6H39.3V274.0H40.1M65.0 270.8H38.5V272.8H39.3M65.0 285.9H50.7V286.7H65.0M38.5 271.8H37.7V286.3H50.7M38.6 264.6H34.0V279.0H37.7M44.3 252.8H30.7V271.8H34.0M65.0 289.9H45.9V290.7H65.0M65.0 292.3H50.9V293.1H65.0M50.9 292.7H49.0V293.8H65.0M65.0 291.5H46.3V293.3H49.0M45.9 290.3H43.9V292.4H46.3M43.9 291.3H40.8V294.6H65.0M65.0 289.1H40.0V293.0H40.8M40.0 291.0H39.2V295.4H65.0M65.0 298.6H51.9V299.4H65.0M65.0 301.0H50.1V301.8H65.0M65.0 303.4H50.9V304.2H65.0M65.0 302.6H50.1V303.8H50.9M50.1 301.4H49.3V303.2H50.1M65.0 300.2H45.1V302.3H49.3M51.9 299.0H42.1V301.3H45.1M65.0 297.8H41.3V300.1H42.1M65.0 306.6H50.4V307.4H65.0M50.4 307.0H49.6V308.2H65.0M65.0 310.5H50.4V311.3H65.0M65.0 309.8H49.6V310.9H50.4M65.0 312.1H49.7V312.9H65.0M49.6 310.3H48.5V312.5H49.7M65.0 313.7H49.3V314.5H65.0M49.3 314.1H48.5V315.3H65.0M48.5 311.4H47.7V314.7H48.5M65.0 309.0H46.9V313.1H47.7M49.6 307.6H43.7V311.0H46.9M65.0 305.8H42.9V309.3H43.7M42.9 307.5H42.1V316.1H65.0M65.0 305.0H41.3V311.8H42.1M41.3 299.0H40.5V308.4H41.3M65.0 297.0H39.7V303.7H40.5M39.7 300.4H38.9V316.9H65.0M65.0 296.2H38.1V308.6H38.9M39.2 293.2H31.7V302.4H38.1M65.0 288.3H27.8V297.8H31.7M65.0 287.5H27.0V293.1H27.8M65.0 324.1H53.9V324.9H65.0M65.0 323.3H50.0V324.5H53.9M65.0 322.5H49.2V323.9H50.0M49.2 323.2H48.4V325.7H65.0M65.0 326.5H48.4V327.2H65.0M48.4 324.4H47.6V326.9H48.4M65.0 321.7H46.8V325.6H47.6M46.8 323.7H46.0V328.0H65.0M65.0 320.9H45.2V325.9H46.0M65.0 320.1H44.4V323.4H45.2M65.0 329.6H52.9V330.4H65.0M65.0 328.8H46.6V330.0H52.9M46.6 329.4H45.8V331.2H65.0M44.4 321.7H43.6V330.3H45.8M65.0 319.3H42.8V326.0H43.6M65.0 318.5H42.0V322.7H42.8M42.0 320.6H41.2V332.0H65.0M65.0 317.7H40.4V326.3H41.2M65.0 334.4H52.8V335.2H65.0M52.8 334.8H52.0V336.0H65.0M65.0 333.6H46.5V335.4H52.0M65.0 338.4H50.3V339.2H65.0M65.0 337.6H48.8V338.8H50.3M65.0 336.8H47.3V338.2H48.8M65.0 340.0H53.9V340.8H65.0M53.9 340.4H48.9V341.6H65.0M48.9 341.0H48.1V342.4H65.0M48.1 341.7H47.3V343.2H65.0M47.3 337.5H46.5V342.4H47.3M46.5 334.5H45.7V339.9H46.5M45.7 337.2H44.9V343.9H65.0M65.0 332.8H44.1V340.6H44.9M40.4 322.0H30.5V336.7H44.1M65.0 344.7H50.6V345.5H65.0M50.6 345.1H47.4V346.3H65.0M47.4 345.7H46.6V347.1H65.0M65.0 348.7H47.1V349.5H65.0M65.0 350.3H49.0V351.1H65.0M49.0 350.7H48.2V351.9H65.0M65.0 352.7H51.3V353.5H65.0M48.2 351.3H45.1V353.1H51.3M47.1 349.1H44.3V352.2H45.1M65.0 347.9H43.5V350.7H44.3M46.6 346.4H42.7V349.3H43.5M42.7 347.9H41.9V354.3H65.0M65.0 355.1H47.2V355.9H65.0M65.0 358.3H52.2V359.1H65.0M52.2 358.7H51.4V359.9H65.0M51.4 359.3H45.7V360.6H65.0M65.0 361.4H50.7V362.2H65.0M50.7 361.8H49.6V363.0H65.0M49.6 362.4H48.3V363.8H65.0M65.0 364.6H49.5V365.4H65.0M65.0 366.2H53.2V367.0H65.0M49.5 365.0H48.7V366.6H53.2M48.3 363.1H45.7V365.8H48.7M45.7 360.0H44.9V364.5H45.7M44.9 362.2H44.1V367.8H65.0M65.0 357.5H39.2V365.0H44.1M65.0 356.7H38.4V361.2H39.2M47.2 355.5H37.6V359.0H38.4M41.9 351.1H35.0V357.2H37.6M65.0 369.4H52.7V370.2H65.0M65.0 371.0H52.2V371.8H65.0M52.7 369.8H47.6V371.4H52.2M65.0 368.6H38.8V370.6H47.6M65.0 374.2H53.9V375.0H65.0M65.0 373.4H46.1V374.6H53.9M65.0 372.6H45.3V374.0H46.1M45.3 373.3H44.5V375.8H65.0M65.0 377.3H47.7V378.1H65.0M47.7 377.7H45.9V378.9H65.0M65.0 376.6H43.7V378.3H45.9M44.5 374.5H38.8V377.4H43.7M38.8 369.6H38.0V376.0H38.8M65.0 379.7H51.2V380.5H65.0M65.0 382.1H52.4V382.9H65.0M52.4 382.5H50.7V383.7H65.0M50.7 383.1H49.9V384.5H65.0M49.9 383.8H49.1V385.3H65.0M65.0 381.3H48.3V384.6H49.1M51.2 380.1H47.5V382.9H48.3M47.5 381.5H39.5V386.1H65.0M65.0 386.9H54.1V387.7H65.0M65.0 389.3H51.5V390.1H65.0M65.0 388.5H50.7V389.7H51.5M54.1 387.3H46.6V389.1H50.7M65.0 391.7H47.0V392.5H65.0M65.0 390.9H42.3V392.1H47.0M46.6 388.2H39.5V391.5H42.3M39.5 383.8H38.7V389.8H39.5M65.0 394.8H52.0V395.6H65.0M65.0 394.0H51.2V395.2H52.0M65.0 396.4H52.2V397.2H65.0M51.2 394.6H47.1V396.8H52.2M65.0 393.3H46.3V395.7H47.1M38.7 386.8H29.0V394.5H46.3M65.0 398.8H52.0V399.6H65.0M65.0 400.4H53.4V401.2H65.0M52.0 399.2H48.7V400.8H53.4M65.0 398.0H37.8V400.0H48.7M65.0 403.6H53.9V404.4H65.0M65.0 402.8H50.6V404.0H53.9M50.6 403.4H49.8V405.2H65.0M49.8 404.3H49.0V406.0H65.0M65.0 406.8H48.9V407.6H65.0M48.9 407.2H48.1V408.4H65.0M65.0 409.2H50.4V410.0H65.0M48.1 407.8H41.0V409.6H50.4M49.0 405.1H40.2V408.7H41.0M65.0 402.0H39.4V406.9H40.2M39.4 404.4H38.6V410.7H65.0M38.6 407.6H37.8V411.5H65.0M37.8 399.0H37.0V409.6H37.8M65.0 415.5H53.5V416.3H65.0M65.0 414.7H50.8V415.9H53.5M65.0 413.9H50.0V415.3H50.8M65.0 413.1H49.2V414.6H50.0M49.2 413.9H43.6V417.1H65.0M43.6 415.5H42.8V417.9H65.0M65.0 412.3H42.0V416.7H42.8M65.0 476.0H59.6V476.8H65.0M65.0 475.2H58.8V476.4H59.6M65.0 474.4H56.6V475.8H58.8M65.0 472.0H62.0V472.8H65.0M65.0 471.2H61.2V472.4H62.0M65.0 470.4H60.4V471.8H61.2M60.4 471.1H59.6V473.6H65.0M65.0 469.6H58.8V472.3H59.6M58.8 471.0H55.9V475.1H56.6M65.0 465.6H56.6V466.4H65.0M65.0 467.2H56.6V468.0H65.0M56.6 466.0H55.8V467.6H56.6M55.8 466.8H55.0V468.8H65.0M55.0 467.8H54.2V473.0H55.9M65.0 464.0H56.0V464.8H65.0M65.0 463.2H55.2V464.4H56.0M65.0 462.4H54.4V463.8H55.2M54.4 463.1H53.6V470.4H54.2M65.0 461.6H52.7V466.8H53.6M65.0 459.3H59.0V460.1H65.0M59.0 459.7H58.2V460.8H65.0M65.0 458.5H57.4V460.2H58.2M65.0 457.7H56.6V459.4H57.4M56.6 458.5H50.8V464.2H52.7M65.0 454.5H61.2V455.3H65.0M61.2 454.9H60.4V456.1H65.0M60.4 455.5H59.6V456.9H65.0M59.6 456.2H49.4V461.4H50.8M65.0 452.1H61.3V452.9H65.0M61.3 452.5H60.5V453.7H65.0M65.0 451.3H59.7V453.1H60.5M59.7 452.2H48.7V458.8H49.4M65.0 448.9H54.3V449.7H65.0M54.3 449.3H53.5V450.5H65.0M53.5 449.9H47.4V455.5H48.7M65.0 445.7H61.6V446.5H65.0M65.0 447.3H61.6V448.1H65.0M61.6 446.1H60.8V447.7H61.6M65.0 444.9H60.0V446.9H60.8M65.0 444.1H59.2V445.9H60.0M59.2 445.0H46.8V452.7H47.4M65.0 443.4H43.6V448.9H46.8M65.0 442.6H43.9V446.1H43.6M65.0 440.2H52.4V441.0H65.0M52.4 440.6H51.6V441.8H65.0M51.6 441.2H43.1V444.3H43.9M65.0 435.4H52.5V436.2H65.0M65.0 437.8H54.1V438.6H65.0M54.1 438.2H53.3V439.4H65.0M65.0 437.0H52.5V438.8H53.3M52.5 435.8H51.7V437.9H52.5M51.7 436.8H42.8V442.7H43.1M65.0 433.8H53.6V434.6H65.0M65.0 433.0H52.8V434.2H53.6M65.0 432.2H52.0V433.6H52.8M52.0 432.9H40.0V439.8H42.8M65.0 430.6H57.2V431.4H65.0M57.2 431.0H39.1V436.4H40.0M65.0 429.8H38.0V433.7H39.1M65.0 429.0H39.0V431.8H38.0M65.0 426.7H60.2V427.4H65.0M65.0 425.9H59.4V427.0H60.2M59.4 426.5H58.6V428.2H65.0M65.0 425.1H57.8V427.3H58.6M57.8 426.2H38.0V430.4H39.0M65.0 424.3H37.6V428.3H38.0M65.0 421.1H57.3V421.9H65.0M57.3 421.5H56.5V422.7H65.0M56.5 422.1H55.7V423.5H65.0M55.7 422.8H35.9V426.3H37.6M65.0 419.5H59.3V420.3H65.0M59.3 419.9H34.3V424.5H35.9M65.0 418.7H34.6V422.2H34.3M65.0 480.7H47.4V481.5H65.0M65.0 483.1H51.2V483.9H65.0M65.0 482.3H50.4V483.5H51.2M65.0 487.1H50.1V487.9H65.0M65.0 489.5H50.9V490.3H65.0M65.0 488.7H50.1V489.9H50.9M50.1 487.5H49.3V489.3H50.1M65.0 486.3H48.5V488.4H49.3M65.0 485.5H47.2V487.3H48.5M65.0 484.7H46.4V486.4H47.2M50.4 482.9H45.6V485.6H46.4M65.0 491.9H49.6V492.7H65.0M49.6 492.3H48.8V493.5H65.0M48.8 492.9H48.0V494.2H65.0M48.0 493.5H47.2V495.0H65.0M47.2 494.3H46.4V495.8H65.0M65.0 491.1H45.6V495.1H46.4M45.6 484.2H44.8V493.1H45.6M47.4 481.1H44.0V488.7H44.8M65.0 534.0H61.6V534.8H65.0M65.0 533.2H60.8V534.4H61.6M65.0 532.4H59.8V533.8H60.8M65.0 531.6H57.9V533.1H59.8M65.0 528.4H60.9V529.2H65.0M65.0 530.0H60.9V530.8H65.0M60.9 528.8H60.1V530.4H60.9M65.0 527.6H59.3V529.6H60.1M59.3 528.6H58.5V532.4H57.9M65.0 525.3H60.1V526.1H65.0M60.1 525.7H59.3V526.9H65.0M65.0 524.5H58.5V526.3H59.3M65.0 523.7H57.7V525.4H58.5M57.7 524.5H56.9V530.5H58.5M65.0 522.9H55.0V527.5H56.9M65.0 518.9H56.4V519.7H65.0M65.0 521.3H57.2V522.1H65.0M65.0 520.5H56.4V521.7H57.2M56.4 519.3H55.6V521.1H56.4M55.6 520.2H54.8V525.2H55.0M65.0 518.1H51.3V522.7H54.8M65.0 517.3H52.4V520.4H51.3M65.0 516.5H52.5V518.9H52.4M65.0 514.9H52.5V515.7H65.0M65.0 514.1H51.7V515.3H52.5M51.7 514.7H50.4V517.7H52.5M65.0 511.7H53.6V512.5H65.0M53.6 512.1H52.8V513.3H65.0M65.0 510.9H52.0V512.7H52.8M52.0 511.8H50.6V516.2H50.4M65.0 510.2H48.1V514.0H50.6M65.0 507.8H51.9V508.6H65.0M51.9 508.2H51.1V509.4H65.0M51.1 508.8H48.9V512.1H48.1M65.0 507.0H47.2V510.4H48.9M65.0 505.4H55.6V506.2H65.0M55.6 505.8H47.2V508.7H47.2M65.0 502.2H61.3V503.0H65.0M65.0 501.4H60.5V502.6H61.3M65.0 503.8H60.5V504.6H65.0M60.5 502.0H59.7V504.2H60.5M59.7 503.1H45.3V507.2H47.2M65.0 499.8H59.6V500.6H65.0M65.0 499.0H58.8V500.2H59.6M58.8 499.6H44.2V505.2H45.3M65.0 498.2H42.8V502.4H44.2M65.0 497.4H43.3V500.3H42.8M65.0 496.6H43.2V498.9H43.3M44.0 484.9H38.0V497.7H43.2M65.0 479.9H34.0V491.3H38.0M34.6 420.5H32.0V485.6H34.0M42.0 414.5H27.0V453.0H32.0M37.0 404.3H20.0V433.8H27.0M29.0 390.7H18.0V419.0H20.0M38.0 372.8H17.0V404.8H18.0M35.0 354.1H16.0V388.8H17.0M30.5 329.4H12.5V371.5H16.0M27.0 290.3H11.0V350.4H12.5M30.7 262.3H8.9V320.3H11.0M16.7 203.4H2.5V291.3H8.9" fill="none" stroke="#000" stroke-width="1.0"/><text x="160.98" y="17.8" class="ht">conditioned medium</text><text x="353.45" y="17.8" class="ht">tissue</text><text x="545.62" y="17.8" class="ht">conditioned medium</text><text x="646" y="17.9" class="lt">sample</text><text x="160.98" y="40.6" class="ht">protein fraction</text><text x="353.45" y="40.6" class="ht">tissue</text><text x="545.62" y="40.6" class="ht">EV fraction</text><text x="646" y="39.9" class="lt">sample type</text><text x="77.80" y="63.6" class="ht">P</text><text x="125.62" y="63.6" class="ht">RA</text><text x="208.80" y="63.6" class="ht">P</text><text x="304.80" y="63.6" class="ht">RA</text><text x="400.65" y="63.6" class="ht">P</text><text x="496.95" y="63.6" class="ht">P</text><text x="593.27" y="63.6" class="ht">RA</text><text x="646" y="64.3" class="lt">hAM region</text><text x="644.6" y="150.9" class="lt" style="font-size:11.9px">donor</text><text x="665" y="207.4" class="gt">4</text><text x="665" y="233.4" class="gt">3</text><text x="665" y="259.5" class="gt">2</text><text x="665" y="285.5" class="gt">1</text><text x="665" y="311.6" class="gt">0</text><text x="665" y="337.6" class="gt">-1</text><text x="665" y="363.7" class="gt">-2</text></svg>

</body></html>
